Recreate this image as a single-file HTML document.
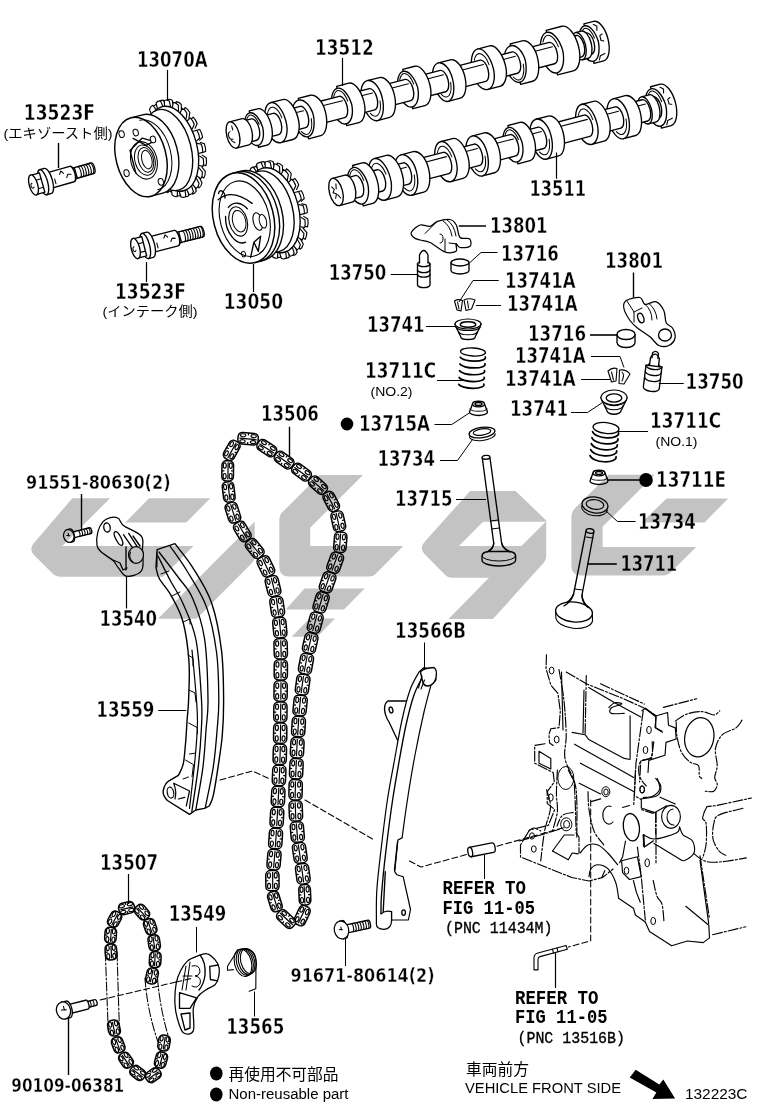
<!DOCTYPE html>
<html><head><meta charset="utf-8"><title>Parts diagram</title>
<style>html,body{margin:0;padding:0;background:#fff}svg{display:block}</style></head>
<body><svg width="760" height="1112" viewBox="0 0 760 1112">
<rect width="760" height="1112" fill="#fff"/>
<path d="M546.5 654.7 L546.0 668.4 L550.8 685.0 L557.9 693.3 L560.3 711.0 L559.0 727.6 L550.8 728.8 L548.9 734.7 L549.6 743.0 L553.2 745.4" fill="none" stroke="#000" stroke-width="1.15" stroke-linejoin="round" stroke-linecap="round" stroke-dasharray="10 2 2 2"/><path d="M544.9 743.7 L534.7 745.4 L534.7 763.2 L553.2 772.6 L554.3 782.0 L547.2 791.6 L547.2 803.4 L554.7 809.5 L548.4 825.3 L529.5 830.0 L520.5 845.0 L520.5 857.0 L571.8 877.5 L589.0 881.0 L602.6 877.5 L613.0 869.0" fill="none" stroke="#000" stroke-width="1.15" stroke-linejoin="round" stroke-linecap="round" stroke-dasharray="10 2 2 2"/><path d="M539.0 751.3 L550.8 758.4 L550.8 769.0 L539.0 763.2 Z" fill="none" stroke="#000" stroke-width="1.15" stroke-linejoin="round" stroke-linecap="round" /><path d="M559.0 669.6 C559.8 674.5 562.6 688.4 563.8 699.2 C565.0 710.1 566.0 724.8 566.2 734.7 C566.4 744.6 563.6 750.5 565.0 758.4 C566.4 766.3 572.5 774.9 574.5 782.0 C576.5 789.1 576.4 791.7 576.8 801.0 C577.2 810.3 576.8 831.8 576.8 837.9" fill="none" stroke="#000" stroke-width="1.15" stroke-linejoin="round" stroke-linecap="round" stroke-dasharray="10 2 2 2"/><path d="M561.5 672.0 L563.0 730.0" fill="none" stroke="#000" stroke-width="1.15" stroke-linejoin="round" stroke-linecap="round" /><path d="M566.2 672.0 L586.3 683.8 L621.8 698.0 L645.5 708.7 L656.2 715.8" fill="none" stroke="#000" stroke-width="1.15" stroke-linejoin="round" stroke-linecap="round" stroke-dasharray="10 2 2 2"/><path d="M600.5 683.8 L644.3 704.0" fill="none" stroke="#000" stroke-width="1.15" stroke-linejoin="round" stroke-linecap="round" stroke-dasharray="10 2 2 2"/><path d="M586.3 675.5 L585.1 734.7" fill="none" stroke="#000" stroke-width="1.15" stroke-linejoin="round" stroke-linecap="round" stroke-dasharray="10 2 2 2"/><path d="M584.0 690.0 L583.0 733.0" fill="none" stroke="#000" stroke-width="1.15" stroke-linejoin="round" stroke-linecap="round" /><path d="M588.7 687.4 L614.7 702.8 L640.8 717.0" fill="none" stroke="#000" stroke-width="1.15" stroke-linejoin="round" stroke-linecap="round" /><path d="M608.8 707.5 C609.8 706.7 612.5 703.4 614.7 702.8 C616.9 702.2 622.4 703.1 621.8 704.0 C621.2 704.9 613.0 706.4 611.2 708.0 C609.4 709.6 609.0 712.5 611.2 713.4 C613.4 714.3 622.0 713.4 624.2 713.4" fill="none" stroke="#000" stroke-width="1.15" stroke-linejoin="round" stroke-linecap="round" /><path d="M630.1 715.8 L630.1 758.4" fill="none" stroke="#000" stroke-width="1.15" stroke-linejoin="round" stroke-linecap="round" /><path d="M572.1 732.4 L585.1 734.7 L588.7 739.5 L624.2 758.4 L630.1 759.5" fill="none" stroke="#000" stroke-width="1.15" stroke-linejoin="round" stroke-linecap="round" /><path d="M574.5 744.2 L633.7 777.4" fill="none" stroke="#000" stroke-width="1.15" stroke-linejoin="round" stroke-linecap="round" /><path d="M580.4 763.2 L633.7 791.6" fill="none" stroke="#000" stroke-width="1.15" stroke-linejoin="round" stroke-linecap="round" /><path d="M579.2 783.3 L600.5 794.0" fill="none" stroke="#000" stroke-width="1.15" stroke-linejoin="round" stroke-linecap="round" /><path d="M643.2 711.0 L636.0 763.2 L633.7 805.8" fill="none" stroke="#000" stroke-width="1.15" stroke-linejoin="round" stroke-linecap="round" stroke-dasharray="10 2 2 2"/><path d="M645.5 708.7 L656.2 717.0 L655.0 727.6 L662.0 731.2" fill="none" stroke="#000" stroke-width="1.15" stroke-linejoin="round" stroke-linecap="round" /><path d="M653.8 741.8 L651.5 758.4 L640.8 760.8 L639.6 782.0" fill="none" stroke="#000" stroke-width="1.15" stroke-linejoin="round" stroke-linecap="round" stroke-dasharray="10 2 2 2"/><path d="M657.4 778.6 C657.8 780.4 660.5 786.2 659.7 789.2 C658.9 792.2 655.4 794.9 652.6 796.3 C649.9 797.7 644.8 797.3 643.2 797.5" fill="none" stroke="#000" stroke-width="1.15" stroke-linejoin="round" stroke-linecap="round" /><ellipse cx="649" cy="730" rx="2.3" ry="3.6" fill="none" stroke="#000" stroke-width="1"/><ellipse cx="645.5" cy="750" rx="2.3" ry="3.6" fill="none" stroke="#000" stroke-width="1"/><ellipse cx="642" cy="789.2" rx="2.3" ry="3.6" fill="none" stroke="#000" stroke-width="1"/><path d="M663.4 707.4 L696.7 698.8" fill="none" stroke="#000" stroke-width="1.15" stroke-linejoin="round" stroke-linecap="round" stroke-dasharray="10 2 2 2"/><path d="M642.0 710.8 L645.4 708.2 L655.7 716.0 L667.6 712.5 L668.5 725.3 L675.3 727.9 L676.2 739.0 L666.0 742.4 L665.0 755.3 L648.8 760.4 L648.0 772.4" fill="none" stroke="#000" stroke-width="1.15" stroke-linejoin="round" stroke-linecap="round" /><path d="M655.7 716.0 L655.7 727.9 L662.5 732.2" fill="none" stroke="#000" stroke-width="1.15" stroke-linejoin="round" stroke-linecap="round" /><path d="M652.2 741.6 C652.1 744.2 653.4 753.6 651.4 757.0 C649.4 760.4 642.3 758.9 640.3 762.0 C638.3 765.1 638.4 771.8 639.4 775.8 C640.4 779.8 645.1 784.3 646.3 786.0" fill="none" stroke="#000" stroke-width="1.15" stroke-linejoin="round" stroke-linecap="round" stroke-dasharray="10 2 2 2"/><path d="M655.7 778.4 C656.6 779.7 660.5 783.1 660.8 786.0 C661.1 788.9 660.7 793.3 657.4 795.5 C654.1 797.7 643.7 798.4 641.0 799.0" fill="none" stroke="#000" stroke-width="1.15" stroke-linejoin="round" stroke-linecap="round" /><ellipse cx="699.3" cy="737.3" rx="14.5" ry="19.7" fill="none" stroke="#000" stroke-width="1.2" transform="rotate(10 699.3 737.3)"/><path d="M675.3 721.0 C677.1 719.9 682.0 715.8 686.4 714.2 C690.8 712.6 697.2 711.5 701.8 711.6 C706.4 711.7 710.8 715.1 713.8 715.0 C716.8 714.9 718.8 711.5 719.8 710.8" fill="none" stroke="#000" stroke-width="1.15" stroke-linejoin="round" stroke-linecap="round" stroke-dasharray="10 2 2 2"/><path d="M676.2 722.0 C676.3 724.4 676.1 731.4 677.0 736.4 C677.9 741.4 679.1 747.5 681.3 751.8 C683.4 756.1 687.0 759.7 689.9 762.0 C692.8 764.3 696.8 763.2 698.4 765.5 C700.0 767.8 698.7 773.6 699.3 775.8 C699.9 777.9 701.4 778.0 701.8 778.4" fill="none" stroke="#000" stroke-width="1.15" stroke-linejoin="round" stroke-linecap="round" stroke-dasharray="10 2 2 2"/><path d="M742.0 720.2 C741.0 721.5 739.3 725.5 736.0 727.9 C732.7 730.3 725.8 731.3 722.4 734.7 C719.0 738.1 716.4 743.3 715.5 748.4 C714.6 753.5 717.3 760.6 717.2 765.5 C717.1 770.4 714.7 774.4 714.7 777.5 C714.7 780.6 717.4 782.0 717.2 784.3 C717.1 786.6 715.8 790.1 713.8 791.2 C711.8 792.4 706.7 791.2 705.3 791.2" fill="none" stroke="#000" stroke-width="1.15" stroke-linejoin="round" stroke-linecap="round" stroke-dasharray="10 2 2 2"/><path d="M660.0 797.2 L675.3 804.0" fill="none" stroke="#000" stroke-width="1.15" stroke-linejoin="round" stroke-linecap="round" /><path d="M642.0 808.3 L654.8 812.6 L666.8 805.7" fill="none" stroke="#000" stroke-width="1.15" stroke-linejoin="round" stroke-linecap="round" /><path d="M655.7 812.6 L655.7 834.0" fill="none" stroke="#000" stroke-width="1.15" stroke-linejoin="round" stroke-linecap="round" stroke-dasharray="10 2 2 2"/><path d="M643.7 834.8 C645.6 835.5 649.4 839.3 654.8 839.0 C660.2 838.7 672.1 835.0 676.2 833.0 C680.3 831.0 679.0 828.0 679.6 827.0" fill="none" stroke="#000" stroke-width="1.15" stroke-linejoin="round" stroke-linecap="round" /><path d="M679.6 827.0 C680.2 828.3 680.9 832.5 683.0 834.8 C685.1 837.1 690.5 837.8 692.4 840.8 C694.2 843.8 695.4 849.5 694.1 852.8 C692.8 856.1 687.4 859.6 684.7 860.5 C682.0 861.4 683.0 860.8 677.9 857.9 C672.8 855.0 658.0 845.8 654.0 843.4" fill="none" stroke="#000" stroke-width="1.15" stroke-linejoin="round" stroke-linecap="round" /><path d="M643.7 834.8 L643.7 846.0" fill="none" stroke="#000" stroke-width="1.6" stroke-linejoin="round" stroke-linecap="round" /><ellipse cx="671" cy="816.8" rx="9.4" ry="11.5" fill="none" stroke="#000" stroke-width="1.15"/><path d="M673 809 A6.5 8 0 1 0 674 825" fill="none" stroke="#000" stroke-width="1.1" stroke-linejoin="round" stroke-linecap="round" /><path d="M694.0 853.6 C695.3 854.6 699.1 858.2 701.8 859.6 C704.5 861.0 706.4 861.9 710.4 862.2 C714.4 862.5 719.8 862.0 725.8 861.3 C731.8 860.6 742.9 858.5 746.3 857.9" fill="none" stroke="#000" stroke-width="1.15" stroke-linejoin="round" stroke-linecap="round" stroke-dasharray="10 2 2 2"/><path d="M704.4 811.7 L707.0 806.6 L715.5 805.7 L751.5 798.0" fill="none" stroke="#000" stroke-width="1.15" stroke-linejoin="round" stroke-linecap="round" stroke-dasharray="10 2 2 2"/><path d="M742.9 808.3 C738.9 809.4 723.9 812.4 719.0 815.0 C714.1 817.6 714.8 819.7 713.8 823.7 C712.8 827.7 712.1 834.5 713.0 839.0 C713.9 843.5 716.9 848.3 719.0 851.0 C721.1 853.7 724.7 854.6 725.8 855.3" fill="none" stroke="#000" stroke-width="1.15" stroke-linejoin="round" stroke-linecap="round" stroke-dasharray="10 2 2 2"/><path d="M704.4 811.7 C704.1 812.9 702.4 816.6 702.7 818.6 C703.0 820.6 705.5 819.4 706.1 823.7 C706.7 828.0 706.7 838.5 706.1 844.2 C705.5 849.9 703.3 855.6 702.7 857.9" fill="none" stroke="#000" stroke-width="1.15" stroke-linejoin="round" stroke-linecap="round" stroke-dasharray="10 2 2 2"/><path d="M700.0 860.4 L708.7 923.7" fill="none" stroke="#000" stroke-width="1.15" stroke-linejoin="round" stroke-linecap="round" /><ellipse cx="631.4" cy="827.2" rx="8" ry="13.8" fill="none" stroke="#000" stroke-width="1.3" transform="rotate(-8 631.4 827.2)"/><path d="M611 806.5 A6.2 9 0 1 0 613 822" fill="none" stroke="#000" stroke-width="1.15" stroke-linejoin="round" stroke-linecap="round" /><ellipse cx="565.8" cy="778" rx="8" ry="11.5" fill="none" stroke="#000" stroke-width="1"/><ellipse cx="551.6" cy="670.5" rx="2.4" ry="3.4" fill="none" stroke="#000" stroke-width="1"/><ellipse cx="556.7" cy="739.5" rx="2.4" ry="3.4" fill="none" stroke="#000" stroke-width="1"/><ellipse cx="550.8" cy="797.5" rx="2.4" ry="3.6" fill="none" stroke="#000" stroke-width="1"/><ellipse cx="533.8" cy="849" rx="2.4" ry="3.2" fill="none" stroke="#000" stroke-width="1"/><ellipse cx="532" cy="836" rx="2.4" ry="3.2" fill="none" stroke="#000" stroke-width="1"/><ellipse cx="626.5" cy="870.7" rx="2.3" ry="3.5" fill="none" stroke="#000" stroke-width="1"/><ellipse cx="647.2" cy="862.8" rx="2.3" ry="4" fill="none" stroke="#000" stroke-width="1"/><ellipse cx="653.2" cy="921" rx="2.4" ry="3.6" fill="none" stroke="#000" stroke-width="1"/><ellipse cx="642.3" cy="789.7" rx="2.3" ry="3.5" fill="none" stroke="#000" stroke-width="1"/><ellipse cx="566.3" cy="824.3" rx="5.6" ry="6.5" fill="none" stroke="#000" stroke-width="1"/><ellipse cx="566.6" cy="824.3" rx="3" ry="3.8" fill="none" stroke="#000" stroke-width="1"/><ellipse cx="605.8" cy="791.7" rx="4" ry="5" fill="none" stroke="#000" stroke-width="1"/><ellipse cx="606" cy="792" rx="2.2" ry="3" fill="none" stroke="#000" stroke-width="1"/><path d="M546.6 789.7 C547.2 792.7 550.8 800.6 550.5 807.5 C550.2 814.4 546.2 822.1 544.6 831.0 C543.0 839.9 541.4 855.8 540.7 860.8" fill="none" stroke="#000" stroke-width="1.15" stroke-linejoin="round" stroke-linecap="round" stroke-dasharray="10 2 2 2"/><path d="M557.4 770.0 C557.2 774.0 556.4 786.8 556.4 793.7 C556.4 800.6 558.0 805.2 557.4 811.4 C556.8 817.6 553.3 827.7 552.5 831.0" fill="none" stroke="#000" stroke-width="1.15" stroke-linejoin="round" stroke-linecap="round" stroke-dasharray="10 2 2 2"/><path d="M568.3 770.0 L574.2 781.8 L575.2 801.6 L576.2 833.2 L579.0 837.0 L579.0 853.0" fill="none" stroke="#000" stroke-width="1.15" stroke-linejoin="round" stroke-linecap="round" stroke-dasharray="10 2 2 2"/><path d="M519.0 841.0 L540.7 835.0 L560.4 829.0" fill="none" stroke="#000" stroke-width="1.15" stroke-linejoin="round" stroke-linecap="round" stroke-dasharray="10 2 2 2"/><path d="M528.8 831.0 C529.6 830.5 531.8 828.0 533.8 828.0 C535.8 828.0 539.6 830.5 540.7 831.0" fill="none" stroke="#000" stroke-width="1.15" stroke-linejoin="round" stroke-linecap="round" stroke-dasharray="10 2 2 2"/><path d="M573.2 812.4 C571.4 812.9 565.1 813.1 562.4 815.4 C559.7 817.7 557.9 824.2 557.0 826.0" fill="none" stroke="#000" stroke-width="1.15" stroke-linejoin="round" stroke-linecap="round" stroke-dasharray="10 2 2 2"/><path d="M552.5 851.0 L564.3 835.0 L574.0 835.0" fill="none" stroke="#000" stroke-width="1.15" stroke-linejoin="round" stroke-linecap="round" /><path d="M552.5 851.0 L568.3 859.8 L572.2 853.0 L578.2 853.9" fill="none" stroke="#000" stroke-width="1.15" stroke-linejoin="round" stroke-linecap="round" /><path d="M580.0 853.0 C581.3 851.7 585.0 846.3 588.0 845.0 C591.0 843.7 594.7 843.7 598.0 845.0 C601.3 846.3 604.5 849.7 607.8 853.0 C611.1 856.3 616.0 862.8 617.6 864.7" fill="none" stroke="#000" stroke-width="1.15" stroke-linejoin="round" stroke-linecap="round" /><path d="M588.0 791.7 C588.2 794.7 588.0 803.0 589.0 809.5 C590.0 816.0 591.5 825.1 594.0 831.0 C596.5 836.9 602.2 842.7 603.8 845.0" fill="none" stroke="#000" stroke-width="1.15" stroke-linejoin="round" stroke-linecap="round" stroke-dasharray="10 2 2 2"/><path d="M591.0 801.6 L601.8 798.6" fill="none" stroke="#000" stroke-width="1.15" stroke-linejoin="round" stroke-linecap="round" stroke-dasharray="10 2 2 2"/><path d="M622.6 807.5 L629.5 805.5" fill="none" stroke="#000" stroke-width="1.15" stroke-linejoin="round" stroke-linecap="round" /><path d="M625.5 841.0 L622.6 856.8 L619.6 862.8" fill="none" stroke="#000" stroke-width="1.15" stroke-linejoin="round" stroke-linecap="round" /><path d="M589.0 876.6 C589.3 875.3 589.5 870.7 591.0 868.7 C592.5 866.7 595.1 864.7 597.9 864.7 C600.7 864.7 604.8 865.7 607.8 868.7 C610.8 871.7 613.9 877.6 615.7 882.5 C617.5 887.4 618.1 895.7 618.6 898.3" fill="none" stroke="#000" stroke-width="1.15" stroke-linejoin="round" stroke-linecap="round" /><path d="M618.6 898.3 L633.4 908.2 L635.4 915.0 L645.3 922.0" fill="none" stroke="#000" stroke-width="1.15" stroke-linejoin="round" stroke-linecap="round" /><path d="M601.8 877.6 L604.8 870.7" fill="none" stroke="#000" stroke-width="1.15" stroke-linejoin="round" stroke-linecap="round" /><path d="M645.3 922.0 L649.5 931.6 L671.6 945.8 L687.4 941.0 L703.2 942.6 L709.5 937.9 L708.8 925.3 L685.8 906.3" fill="none" stroke="#000" stroke-width="1.15" stroke-linejoin="round" stroke-linecap="round" /><path d="M712.6 934.7 L745.8 926.8" fill="none" stroke="#000" stroke-width="1.15" stroke-linejoin="round" stroke-linecap="round" stroke-dasharray="10 2 2 2"/><path d="M700.0 855.8 L709.5 919.0" fill="none" stroke="#000" stroke-width="1.15" stroke-linejoin="round" stroke-linecap="round" stroke-dasharray="10 2 2 2"/><path d="M653.2 880.5 C653.8 883.1 655.5 892.3 657.0 896.3 C658.5 900.2 660.8 899.9 662.0 904.2 C663.2 908.5 663.7 919.0 664.0 922.0" fill="none" stroke="#000" stroke-width="1.15" stroke-linejoin="round" stroke-linecap="round" stroke-dasharray="10 2 2 2"/><path d="M633.4 880.5 L636.4 892.4 L640.3 902.2" fill="none" stroke="#000" stroke-width="1.15" stroke-linejoin="round" stroke-linecap="round" /><path d="M637.4 847.0 L641.3 876.6 L645.3 920.0" fill="none" stroke="#000" stroke-width="1.15" stroke-linejoin="round" stroke-linecap="round" stroke-dasharray="10 2 2 2"/><path d="M621.6 860.8 L637.4 856.8 L641.3 876.6 L629.5 879.5 L622.6 872.6 Z" fill="none" stroke="#000" stroke-width="1.15" stroke-linejoin="round" stroke-linecap="round" /><path d="M635.4 770.0 L634.4 795.7 L641.3 799.6 L641.3 809.5 L653.2 813.4" fill="none" stroke="#000" stroke-width="1.15" stroke-linejoin="round" stroke-linecap="round" stroke-dasharray="10 2 2 2"/><path d="M643.3 835.0 L644.3 847.0 L653.2 841.0" fill="none" stroke="#000" stroke-width="1.5" stroke-linejoin="round" stroke-linecap="round" /><path d="M656.0 812.4 L656.0 862.8" fill="none" stroke="#000" stroke-width="1.15" stroke-linejoin="round" stroke-linecap="round" stroke-dasharray="10 2 2 2"/>
<path d="M220 780 L252.5 771 L270 779 M305 800 L372.6 839 M409.5 861 L421 867 L467 854.4 M497 846.2 L566 827" fill="none" stroke="#000" stroke-width="1.05" stroke-linejoin="round" stroke-linecap="round" stroke-dasharray="6 3"/><path d="M100 1000 L176 982" fill="none" stroke="#000" stroke-width="1.05" stroke-linejoin="round" stroke-linecap="round" stroke-dasharray="6 3"/><path d="M590.7 800 L590.7 940.8 L568.4 947" fill="none" stroke="#000" stroke-width="1.05" stroke-linejoin="round" stroke-linecap="round" stroke-dasharray="6 3"/>
<g transform="translate(33.5 185) rotate(-15.9)"><path d="M44 -5.5 L61 -5.5 A2.5 5.5 0 0 1 61 5.5 L44 5.5 Z" fill="#fff" stroke="#000" stroke-width="1.35" stroke-linejoin="round" stroke-linecap="round" /><path d="M47.0 -5.5 A2.2 5.5 0 0 1 47.0 5.5" fill="none" stroke="#000" stroke-width="1.05" stroke-linejoin="round" stroke-linecap="round" /><path d="M49.6 -5.5 A2.2 5.5 0 0 1 49.6 5.5" fill="none" stroke="#000" stroke-width="1.05" stroke-linejoin="round" stroke-linecap="round" /><path d="M52.2 -5.5 A2.2 5.5 0 0 1 52.2 5.5" fill="none" stroke="#000" stroke-width="1.05" stroke-linejoin="round" stroke-linecap="round" /><path d="M54.8 -5.5 A2.2 5.5 0 0 1 54.8 5.5" fill="none" stroke="#000" stroke-width="1.05" stroke-linejoin="round" stroke-linecap="round" /><path d="M57.4 -5.5 A2.2 5.5 0 0 1 57.4 5.5" fill="none" stroke="#000" stroke-width="1.05" stroke-linejoin="round" stroke-linecap="round" /><path d="M60.0 -5.5 A2.2 5.5 0 0 1 60.0 5.5" fill="none" stroke="#000" stroke-width="1.05" stroke-linejoin="round" stroke-linecap="round" /><path d="M40 -6 L44 -5.5 M40 6 L44 5.5" fill="none" stroke="#000" stroke-width="1.35" stroke-linejoin="round" stroke-linecap="round" /><path d="M14 -8 L40 -8 A3 8 0 0 1 40 8 L14 8 Z" fill="#fff" stroke="#000" stroke-width="1.35" stroke-linejoin="round" stroke-linecap="round" /><path d="M28 -3 l2 -3 l2 3 M34 2 l2 -3 l3 1 M22 0 l0 5" fill="none" stroke="#000" stroke-width="1.05" stroke-linejoin="round" stroke-linecap="round" /><path d="M10 -13 L15 -13 A4.5 13 0 0 1 15 13 L10 13 Z" fill="#fff" stroke="#000" stroke-width="1.35" stroke-linejoin="round" stroke-linecap="round" /><ellipse cx="10" cy="0" rx="4.5" ry="13" fill="#fff" stroke="#000" stroke-width="1.35"/><path d="M0 -10 L9 -10 L9 10 L0 10 Z" fill="#fff" stroke="#000" stroke-width="1.35" stroke-linejoin="round" stroke-linecap="round" /><path d="M0 -4 L9 -4 M0 5 L9 5" fill="none" stroke="#000" stroke-width="1.05" stroke-linejoin="round" stroke-linecap="round" /><ellipse cx="0" cy="0" rx="4.2" ry="10.5" fill="#fff" stroke="#000" stroke-width="1.35"/><path d="M-1 -2 a1.5 2.5 0 1 0 1 4" fill="none" stroke="#000" stroke-width="1.05" stroke-linejoin="round" stroke-linecap="round" /></g>
<g transform="translate(135.5 248.5) rotate(-14.3)"><path d="M46 -5.5 L68 -5.5 A2.5 5.5 0 0 1 68 5.5 L46 5.5 Z" fill="#fff" stroke="#000" stroke-width="1.35" stroke-linejoin="round" stroke-linecap="round" /><path d="M49.0 -5.5 A2.2 5.5 0 0 1 49.0 5.5" fill="none" stroke="#000" stroke-width="1.05" stroke-linejoin="round" stroke-linecap="round" /><path d="M51.6 -5.5 A2.2 5.5 0 0 1 51.6 5.5" fill="none" stroke="#000" stroke-width="1.05" stroke-linejoin="round" stroke-linecap="round" /><path d="M54.2 -5.5 A2.2 5.5 0 0 1 54.2 5.5" fill="none" stroke="#000" stroke-width="1.05" stroke-linejoin="round" stroke-linecap="round" /><path d="M56.8 -5.5 A2.2 5.5 0 0 1 56.8 5.5" fill="none" stroke="#000" stroke-width="1.05" stroke-linejoin="round" stroke-linecap="round" /><path d="M59.4 -5.5 A2.2 5.5 0 0 1 59.4 5.5" fill="none" stroke="#000" stroke-width="1.05" stroke-linejoin="round" stroke-linecap="round" /><path d="M62.0 -5.5 A2.2 5.5 0 0 1 62.0 5.5" fill="none" stroke="#000" stroke-width="1.05" stroke-linejoin="round" stroke-linecap="round" /><path d="M64.6 -5.5 A2.2 5.5 0 0 1 64.6 5.5" fill="none" stroke="#000" stroke-width="1.05" stroke-linejoin="round" stroke-linecap="round" /><path d="M67.2 -5.5 A2.2 5.5 0 0 1 67.2 5.5" fill="none" stroke="#000" stroke-width="1.05" stroke-linejoin="round" stroke-linecap="round" /><path d="M42 -6 L46 -5.5 M42 6 L46 5.5" fill="none" stroke="#000" stroke-width="1.35" stroke-linejoin="round" stroke-linecap="round" /><path d="M14 -8 L42 -8 A3 8 0 0 1 42 8 L14 8 Z" fill="#fff" stroke="#000" stroke-width="1.35" stroke-linejoin="round" stroke-linecap="round" /><path d="M30 -3 l2 -3 l2 3 M36 2 l2 -3 l3 1 M22 0 l0 5" fill="none" stroke="#000" stroke-width="1.05" stroke-linejoin="round" stroke-linecap="round" /><path d="M10 -13 L15 -13 A4.5 13 0 0 1 15 13 L10 13 Z" fill="#fff" stroke="#000" stroke-width="1.35" stroke-linejoin="round" stroke-linecap="round" /><ellipse cx="10" cy="0" rx="4.5" ry="13" fill="#fff" stroke="#000" stroke-width="1.35"/><path d="M0 -10 L9 -10 L9 10 L0 10 Z" fill="#fff" stroke="#000" stroke-width="1.35" stroke-linejoin="round" stroke-linecap="round" /><path d="M0 -4 L9 -4 M0 5 L9 5" fill="none" stroke="#000" stroke-width="1.05" stroke-linejoin="round" stroke-linecap="round" /><ellipse cx="0" cy="0" rx="4.2" ry="10.5" fill="#fff" stroke="#000" stroke-width="1.35"/><path d="M-1 -2 a1.5 2.5 0 1 0 1 4" fill="none" stroke="#000" stroke-width="1.05" stroke-linejoin="round" stroke-linecap="round" /></g>
<g transform="translate(68.8 536) rotate(-14)"><path d="M3 -3 L22 -3 A1.5 3 0 0 1 22 3 L3 3 Z" fill="#fff" stroke="#000" stroke-width="1.35" stroke-linejoin="round" stroke-linecap="round" /><path d="M20.5 -3 A1.3 3 0 0 1 20.5 3" fill="none" stroke="#000" stroke-width="1.05" stroke-linejoin="round" stroke-linecap="round" /><path d="M17.9 -3 A1.3 3 0 0 1 17.9 3" fill="none" stroke="#000" stroke-width="1.05" stroke-linejoin="round" stroke-linecap="round" /><path d="M15.3 -3 A1.3 3 0 0 1 15.3 3" fill="none" stroke="#000" stroke-width="1.05" stroke-linejoin="round" stroke-linecap="round" /><path d="M12.7 -3 A1.3 3 0 0 1 12.7 3" fill="none" stroke="#000" stroke-width="1.05" stroke-linejoin="round" stroke-linecap="round" /><path d="M10.1 -3 A1.3 3 0 0 1 10.1 3" fill="none" stroke="#000" stroke-width="1.05" stroke-linejoin="round" stroke-linecap="round" /><path d="M0 -6.5 L3 -6.5 A2.5 6.5 0 0 1 3 6.5 L0 6.5 Z" fill="#fff" stroke="#000" stroke-width="1.35" stroke-linejoin="round" stroke-linecap="round" /><ellipse cx="0" cy="0" rx="5.2" ry="6.5" fill="#fff" stroke="#000" stroke-width="1.2"/><path d="M-2 -1 l3 1 M0 -3 l0 3" fill="none" stroke="#000" stroke-width="1.05" stroke-linejoin="round" stroke-linecap="round" /></g>
<g transform="translate(341.5 930) rotate(-12)"><path d="M3 -4 L28 -4 A1.5 4 0 0 1 28 4 L3 4 Z" fill="#fff" stroke="#000" stroke-width="1.35" stroke-linejoin="round" stroke-linecap="round" /><path d="M26.5 -4 A1.3 4 0 0 1 26.5 4" fill="none" stroke="#000" stroke-width="1.05" stroke-linejoin="round" stroke-linecap="round" /><path d="M23.9 -4 A1.3 4 0 0 1 23.9 4" fill="none" stroke="#000" stroke-width="1.05" stroke-linejoin="round" stroke-linecap="round" /><path d="M21.3 -4 A1.3 4 0 0 1 21.3 4" fill="none" stroke="#000" stroke-width="1.05" stroke-linejoin="round" stroke-linecap="round" /><path d="M18.7 -4 A1.3 4 0 0 1 18.7 4" fill="none" stroke="#000" stroke-width="1.05" stroke-linejoin="round" stroke-linecap="round" /><path d="M16.1 -4 A1.3 4 0 0 1 16.1 4" fill="none" stroke="#000" stroke-width="1.05" stroke-linejoin="round" stroke-linecap="round" /><path d="M13.5 -4 A1.3 4 0 0 1 13.5 4" fill="none" stroke="#000" stroke-width="1.05" stroke-linejoin="round" stroke-linecap="round" /><path d="M10.899999999999999 -4 A1.3 4 0 0 1 10.899999999999999 4" fill="none" stroke="#000" stroke-width="1.05" stroke-linejoin="round" stroke-linecap="round" /><path d="M0 -9 L3 -9 A2.5 9 0 0 1 3 9 L0 9 Z" fill="#fff" stroke="#000" stroke-width="1.35" stroke-linejoin="round" stroke-linecap="round" /><ellipse cx="0" cy="0" rx="7.2" ry="9" fill="#fff" stroke="#000" stroke-width="1.2"/><path d="M-2 -1 l3 1 M0 -3 l0 3" fill="none" stroke="#000" stroke-width="1.05" stroke-linejoin="round" stroke-linecap="round" /></g>
<g transform="translate(63.5 1010.5) rotate(-14)"><path d="M24 -3 L33 -3 A1.5 3 0 0 1 33 3 L24 3 Z" fill="#fff" stroke="#000" stroke-width="1.35" stroke-linejoin="round" stroke-linecap="round" /><path d="M27 -3 A1.3 3 0 0 1 27 3 M30 -3 A1.3 3 0 0 1 30 3" fill="none" stroke="#000" stroke-width="1.05" stroke-linejoin="round" stroke-linecap="round" /><path d="M5 -4.6 L24 -4.6 A2 4.6 0 0 1 24 4.6 L5 4.6 Z" fill="#fff" stroke="#000" stroke-width="1.35" stroke-linejoin="round" stroke-linecap="round" /><path d="M0 -8.5 L5 -8.5 A3.5 8.5 0 0 1 5 8.5 L0 8.5 Z" fill="#fff" stroke="#000" stroke-width="1.35" stroke-linejoin="round" stroke-linecap="round" /><ellipse cx="0" cy="0" rx="7" ry="8.7" fill="#fff" stroke="#000" stroke-width="1.3"/><path d="M-2 -1 l5 1 M1 -4 l0 4" fill="none" stroke="#000" stroke-width="1.05" stroke-linejoin="round" stroke-linecap="round" /></g>
<path d="M103.0 521.6 C105.1 519.2 107.8 518.2 110.3 517.6 C112.8 517.0 116.0 517.0 118.2 518.3 C120.4 519.6 119.6 522.5 123.4 525.5 C127.2 528.5 138.0 532.0 141.2 536.0 C144.4 540.0 142.4 543.5 142.5 549.2 C142.6 554.9 144.4 565.8 141.8 570.3 C139.2 574.8 130.6 576.7 126.7 576.2 C122.8 575.8 120.5 570.2 118.2 567.6 C115.9 565.0 115.8 563.0 112.9 560.4 C110.0 557.8 103.7 554.3 101.0 551.8 C98.3 549.3 97.5 548.6 97.0 545.3 C96.5 542.0 96.8 536.0 97.8 532.1 C98.8 528.2 100.9 524.0 103.0 521.6 Z" fill="#fff" stroke="#000" stroke-width="1.25" stroke-linejoin="round" stroke-linecap="round" /><ellipse cx="107" cy="527.5" rx="3.2" ry="4.6" fill="none" stroke="#000" stroke-width="1.35" transform="rotate(-10 107 527.5)"/><ellipse cx="118.5" cy="538.5" rx="2.6" ry="7.5" fill="none" stroke="#000" stroke-width="1.35" transform="rotate(-28 118.5 538.5)"/><path d="M123.4 534.7 L132.6 547.9 M128.7 533.4 L137.2 546.6 M133 536 L140 546 M126 547 L126 570 M113 560 L120 563 L123 570 L127 568" fill="none" stroke="#000" stroke-width="1.35" stroke-linejoin="round" stroke-linecap="round" /><ellipse cx="136" cy="555" rx="7.5" ry="8.3" fill="#fff" stroke="#000" stroke-width="1.2"/><path d="M130.5 552 A6.5 7.5 0 0 0 133 562" fill="none" stroke="#000" stroke-width="1.05" stroke-linejoin="round" stroke-linecap="round" />
<path d="M174.9 543.7 C177.8 547.7 186.5 557.5 192.6 567.4 C198.7 577.3 206.8 589.1 211.6 602.9 C216.4 616.7 219.5 634.1 221.5 650.3 C223.5 666.5 223.5 685.9 223.6 700.0 C223.7 714.1 223.2 723.8 222.3 735.0 C221.4 746.2 219.5 757.3 218.0 767.4 C216.5 777.5 214.7 789.4 213.2 795.8 C211.7 802.2 209.9 804.3 209.2 806.0 L204.5 808.4 L195.8 810 L189.5 814.4 L167.4 800.5 Q162 795 163.4 790 Q164.5 784 169 780.8 L178.4 775.3 L178.4 775.3 C179.2 773.4 182.0 769.5 183.2 764.2 C184.4 758.9 184.8 751.1 185.5 743.7 C186.2 736.3 186.6 727.3 187.1 720.0 C187.6 712.7 188.3 709.7 188.6 700.0 C188.9 690.3 189.9 675.0 189.0 662.0 C188.1 649.0 185.9 632.8 183.0 621.8 C180.1 610.8 175.2 602.9 171.3 595.8 C167.4 588.7 162.1 583.7 159.5 579.0 C156.9 574.3 156.6 569.3 156.0 567.4 L157.1 549.6 Z" fill="#fff" stroke="#000" stroke-width="1.4" stroke-linejoin="round" stroke-linecap="round" /><path d="M170.0 546.0 C172.8 550.2 180.9 560.8 187.0 571.0 C193.1 581.2 201.6 593.5 206.5 607.0 C211.4 620.5 214.4 636.5 216.5 652.0 C218.6 667.5 218.7 687.0 218.8 700.0 C218.9 713.0 218.0 718.8 217.1 730.0 C216.2 741.2 215.2 754.5 213.2 767.4 C211.2 780.3 206.6 800.9 205.3 807.6" fill="none" stroke="#000" stroke-width="1.3" stroke-linejoin="round" stroke-linecap="round" /><path d="M159.0 552.0 C162.2 556.2 172.4 569.3 178.0 577.0 C183.6 584.7 188.2 588.0 192.6 598.2 C197.0 608.4 201.9 621.4 204.5 638.4 C207.1 655.4 207.8 684.7 208.0 700.0 C208.2 715.3 206.8 718.8 206.0 730.0 C205.2 741.2 204.6 754.1 202.9 767.4 C201.2 780.7 197.0 802.9 195.8 810.0" fill="none" stroke="#000" stroke-width="1.3" stroke-linejoin="round" stroke-linecap="round" /><path d="M158.0 556.0 C160.0 560.0 165.8 572.0 170.0 580.0 C174.2 588.0 178.9 594.0 183.2 604.0 C187.5 614.0 192.9 624.0 196.0 640.0 C199.1 656.0 200.6 685.0 201.5 700.0 C202.4 715.0 201.9 718.8 201.3 730.0 C200.8 741.2 199.8 753.8 198.2 767.4 C196.6 781.0 192.9 804.2 191.8 811.6" fill="none" stroke="#000" stroke-width="1.3" stroke-linejoin="round" stroke-linecap="round" /><path d="M192.0 650.0 C192.8 658.3 195.6 687.5 196.5 700.0 C197.4 712.5 197.7 715.1 197.4 725.0 C197.2 734.9 196.3 745.6 195.0 759.5 C193.7 773.4 190.4 800.2 189.5 808.4" fill="none" stroke="#000" stroke-width="1.2" stroke-linejoin="round" stroke-linecap="round" /><path d="M157 553 L157 567 M161 574 l8 -3 M172 596 l8 -4 M183 622 l7 -3 l0 5 M188 655 l5 3 l0 8 M189 690 l6 3 l1 9 M188.7 723 l8.7 4.7 l0 6 M189.5 754 l5.5 -0.8 M185.5 760 l8 4.7 l-1.5 12 M183 779 l5.5 -2" fill="none" stroke="#000" stroke-width="1" stroke-linejoin="round" stroke-linecap="round" /><ellipse cx="170.5" cy="792.6" rx="3.2" ry="5.5" fill="none" stroke="#000" stroke-width="1.2" transform="rotate(-12 170.5 792.6)"/><path d="M173.7 783.2 L189.5 791 L186.3 806 M173.7 783.2 Q177 792 175 799 M178.4 799 L184.7 797.4" fill="none" stroke="#000" stroke-width="1.2" stroke-linejoin="round" stroke-linecap="round" />
<path d="M419.0 672.0 C417.5 675.0 412.8 682.0 410.0 690.0 C407.2 698.0 404.6 708.3 402.0 720.0 C399.4 731.7 396.9 746.7 394.5 760.0 C392.1 773.3 389.6 785.0 387.4 800.0 C385.1 815.0 382.8 834.9 381.0 850.0 C379.2 865.1 377.6 878.1 376.8 890.5 C376.0 902.9 376.5 918.6 376.4 924.2 Q376.4 929 384 929.3 Q391.6 929 391.6 920 L393.7 920 L408.4 920 L410.5 909.5 L403.2 876.8 L396.8 874.7 L394.7 871.6 L397.9 840 L402.1 837.9 L402.1 837.9 C403.0 831.6 405.2 813.8 407.4 800.0 C409.5 786.2 412.2 769.7 415.0 755.0 C417.8 740.3 421.3 723.7 424.0 712.0 C426.7 700.3 429.8 689.5 431.0 685.0 L436 680 L434 670 L424 667.5 Z" fill="#fff" stroke="#000" stroke-width="1.2" stroke-linejoin="round" stroke-linecap="round" /><path d="M423.0 676.0 C421.5 679.2 416.8 686.8 414.0 695.0 C411.2 703.2 408.5 713.8 406.0 725.0 C403.5 736.2 401.2 749.5 399.0 762.0 C396.8 774.5 394.8 785.3 392.6 800.0 C390.4 814.7 387.9 834.2 386.0 850.0 C384.1 865.8 382.3 884.4 381.5 895.0 C380.7 905.6 381.1 910.6 381.0 913.7" fill="none" stroke="#000" stroke-width="1.35" stroke-linejoin="round" stroke-linecap="round" /><path d="M385.3 871.6 L383.2 911.6 M381 913.7 Q386 910 391.6 911.6 L391.6 921 M397.5 842 L394.5 870" fill="none" stroke="#000" stroke-width="1.35" stroke-linejoin="round" stroke-linecap="round" /><path d="M420.5 672 Q423 668 434 667.5 Q437.5 670 436 678 Q434 685 428 686 Q423.5 686 422.5 681 Z" fill="#fff" stroke="#000" stroke-width="1.35" stroke-linejoin="round" stroke-linecap="round" /><path d="M422 676 L418.5 688 M424.5 680 L421 689" fill="none" stroke="#000" stroke-width="1.05" stroke-linejoin="round" stroke-linecap="round" /><path d="M406 701 L388 701 Q384.5 703 384.5 709 Q385 716 389 722 L397.5 740" fill="none" stroke="#000" stroke-width="1.35" stroke-linejoin="round" stroke-linecap="round" /><ellipse cx="391" cy="710" rx="1.8" ry="3" fill="none" stroke="#000" stroke-width="1.35" transform="rotate(-15 391 710)"/><ellipse cx="403.6" cy="912.6" rx="1.8" ry="2.8" fill="none" stroke="#000" stroke-width="1.35"/>
<path d="M196.6 956.4 C199.9 955.2 204.0 953.2 207.1 953.8 C210.2 954.3 213.0 957.4 215.0 959.7 C217.0 962.0 218.4 964.5 219.0 967.6 C219.6 970.7 219.0 975.4 218.3 978.2 C217.6 981.1 217.1 982.7 215.0 984.7 C212.9 986.7 208.7 988.0 205.8 990.0 C203.0 992.0 200.0 993.5 197.9 996.6 C195.8 999.7 194.1 1002.7 193.3 1008.4 C192.5 1014.1 195.0 1026.7 193.3 1030.8 C191.7 1034.9 186.0 1034.8 183.4 1032.8 C180.8 1030.8 178.9 1023.9 177.5 1019.0 C176.1 1014.1 175.1 1009.1 174.9 1003.2 C174.7 997.3 175.2 988.9 176.2 983.4 C177.2 977.9 178.9 974.0 180.8 970.3 C182.7 966.6 184.8 963.4 187.4 961.1 C190.0 958.8 193.3 957.6 196.6 956.4 Z" fill="#fff" stroke="#000" stroke-width="1.25" stroke-linejoin="round" stroke-linecap="round" /><path d="M209.7 966.3 L218.3 965 M209.7 966.3 L210.4 979.5 L217.6 980.8 M200 955 Q206 962 205 975 Q204 984 199 990" fill="none" stroke="#000" stroke-width="1.35" stroke-linejoin="round" stroke-linecap="round" /><path d="M192 966 Q200 964 200 972 Q199 976 195 976 Q202 977 200 984 Q197 989 192 986" fill="none" stroke="#000" stroke-width="1" stroke-linejoin="round" stroke-linecap="round" /><path d="M186 966 L182 990 M190 962 L186 990 M183 976 L192 976" fill="none" stroke="#000" stroke-width="1.05" stroke-linejoin="round" stroke-linecap="round" /><path d="M179.5 992.6 L196.6 997.9 L190 1008.4 L179.5 1008.4 Z M181 1014 L190 1013 L190 1028 L185 1030 Z" fill="none" stroke="#000" stroke-width="1.35" stroke-linejoin="round" stroke-linecap="round" />
<ellipse cx="243.0" cy="962.8" rx="8.5" ry="14.0" fill="none" stroke="#000" stroke-width="1.1" transform="rotate(-14 243.0 962.8)"/><ellipse cx="244.8" cy="962.1999999999999" rx="8.2" ry="13.6" fill="none" stroke="#000" stroke-width="1.1" transform="rotate(-14 244.8 962.1999999999999)"/><ellipse cx="246.6" cy="961.5999999999999" rx="7.9" ry="13.2" fill="none" stroke="#000" stroke-width="1.1" transform="rotate(-14 246.6 961.5999999999999)"/><ellipse cx="248.4" cy="961.0" rx="7.6" ry="12.8" fill="none" stroke="#000" stroke-width="1.1" transform="rotate(-14 248.4 961.0)"/><path d="M238 949.5 L227.5 966.3 L227.5 970.3 L233.4 969.6 M246 949 Q256 950 256 962 L255.8 988.7 L249.2 991.3" fill="none" stroke="#000" stroke-width="1.1" stroke-linejoin="round" stroke-linecap="round" />
<path d="M176 982 L192 978.3" fill="none" stroke="#000" stroke-width="1.05" stroke-linejoin="round" stroke-linecap="round" stroke-dasharray="6 3"/>
<path d="M411.3 232.5 C412.3 230.4 416.9 226.0 420.0 225.0 C423.1 224.0 427.1 226.9 430.0 226.3 C432.9 225.7 434.2 222.4 437.5 221.3 C440.8 220.2 446.9 218.9 450.0 219.5 C453.1 220.1 454.6 222.0 456.3 225.0 C458.0 228.0 457.8 235.2 460.0 237.5 C462.2 239.8 467.8 237.3 469.5 238.8 C471.2 240.3 471.6 244.9 470.0 246.3 C468.4 247.8 462.3 247.9 460.0 247.5 C457.7 247.1 456.7 243.2 456.0 243.8 C455.3 244.4 457.8 249.9 456.0 251.3 C454.2 252.7 449.3 253.5 445.0 252.0 C440.7 250.5 434.2 244.5 430.0 242.5 C425.8 240.5 422.7 240.8 420.0 240.0 C417.3 239.2 415.2 238.8 413.8 237.5 C412.4 236.2 410.3 234.6 411.3 232.5 Z" fill="#fff" stroke="#000" stroke-width="1.25" stroke-linejoin="round" stroke-linecap="round" /><path d="M440 234 a3 4.5 0 1 1 0 9 M425 233.5 L436 222.5 M443 221 Q450 225 452 236 M447 220 Q454 224 456 236 M445 239 L445 252 M456 243.8 L449 243" fill="none" stroke="#000" stroke-width="1" stroke-linejoin="round" stroke-linecap="round" />
<path d="M623.8 308.0 C623.2 304.7 623.6 302.2 626.3 300.5 C629.0 298.8 636.9 296.9 640.0 297.5 C643.1 298.1 642.3 303.6 645.0 304.3 C647.7 305.0 653.2 300.8 656.3 301.8 C659.4 302.8 662.1 307.0 663.8 310.5 C665.5 314.0 664.8 320.1 666.3 323.0 C667.8 325.9 671.0 325.5 672.5 328.0 C674.0 330.5 675.6 335.1 675.0 338.0 C674.4 340.9 671.5 344.2 668.8 345.5 C666.1 346.8 661.9 346.9 658.8 345.5 C655.7 344.1 653.5 339.7 650.0 336.8 C646.5 333.9 640.8 330.7 637.5 328.0 C634.2 325.3 632.3 323.8 630.0 320.5 C627.7 317.2 624.4 311.3 623.8 308.0 Z" fill="#fff" stroke="#000" stroke-width="1.25" stroke-linejoin="round" stroke-linecap="round" /><ellipse cx="665" cy="335" rx="6.5" ry="6" fill="#fff" stroke="#000" stroke-width="1.35"/><ellipse cx="640.8" cy="318" rx="2.8" ry="5" fill="none" stroke="#000" stroke-width="1.35" transform="rotate(-20 640.8 318)"/><path d="M627 301 L634 312 L634 322 M645 304.3 Q652 310 652 320 M649 303.5 Q656 309 657 319 M634 312 L642 308" fill="none" stroke="#000" stroke-width="1" stroke-linejoin="round" stroke-linecap="round" />
<path d="M417.5 264 L417.5 285 A6.3 3 0 0 0 430 285 L430 264 A6.3 3 0 0 0 417.5 264 Z" fill="#fff" stroke="#000" stroke-width="1.35" stroke-linejoin="round" stroke-linecap="round" /><path d="M417.5 264 A6.3 3 0 0 0 430 264 M417.5 270 A6.3 3 0 0 0 430 270 M417.5 274.5 A6.3 3 0 0 0 430 274.5" fill="none" stroke="#000" stroke-width="1.35" stroke-linejoin="round" stroke-linecap="round" /><path d="M419.5 263 L419.5 255 Q423.7 246 428 255 L428 263" fill="#fff" stroke="#000" stroke-width="1.35" stroke-linejoin="round" stroke-linecap="round" />
<g transform="rotate(7 653 374)"><path d="M645 366 L645 388 A8 3.5 0 0 0 661 388 L661 366 Z" fill="#fff" stroke="#000" stroke-width="1.35" stroke-linejoin="round" stroke-linecap="round" /><path d="M645 366 A8 3.5 0 0 0 661 366 M645 372 A8 3.5 0 0 0 661 372 M645 378 A8 3.5 0 0 0 661 378 M647 366 A6 2.5 0 0 1 659 366" fill="none" stroke="#000" stroke-width="1.35" stroke-linejoin="round" stroke-linecap="round" /><path d="M648.5 365 L648.5 358 Q653 350 657.5 358 L657.5 365" fill="#fff" stroke="#000" stroke-width="1.35" stroke-linejoin="round" stroke-linecap="round" /><path d="M650 358 L650 353 Q653 349.5 656 353 L656 358" fill="none" stroke="#000" stroke-width="1.35" stroke-linejoin="round" stroke-linecap="round" /></g>
<path d="M451 262.5 L451 270.5 A9 3.5 0 0 0 469 270.5 L469 262.5 Z" fill="#fff" stroke="#000" stroke-width="1.35" stroke-linejoin="round" stroke-linecap="round" /><ellipse cx="460" cy="262.5" rx="9" ry="3.5" fill="#fff" stroke="#000" stroke-width="1.35"/>
<path d="M617 334.5 L617 342.5 A9 5 0 0 0 635 342.5 L635 334.5 Z" fill="#fff" stroke="#000" stroke-width="1.35" stroke-linejoin="round" stroke-linecap="round" /><ellipse cx="626" cy="334.5" rx="9" ry="5" fill="#fff" stroke="#000" stroke-width="1.35"/>
<path d="M454.5 301 L457 310 L461 311 L462.5 300.5 Q458 298.5 454.5 301 Z M464 300 L466 310.5 L471.5 309 L475 300 Q469 297.5 464 300 Z" fill="#fff" stroke="#000" stroke-width="1.1" stroke-linejoin="round" stroke-linecap="round" /><path d="M457.5 302 L459 309 M467.5 301 L468.5 308" fill="none" stroke="#000" stroke-width="1.05" stroke-linejoin="round" stroke-linecap="round" />
<path d="M608 371 Q612 367 617 368.5 L616 381 L611.5 382 Z M619.5 370 Q626 369 630 374 L624 384 L619 383.5 Z" fill="#fff" stroke="#000" stroke-width="1.1" stroke-linejoin="round" stroke-linecap="round" /><path d="M611.5 372 L613.5 380 M622 372 Q625 375 622 381" fill="none" stroke="#000" stroke-width="1.05" stroke-linejoin="round" stroke-linecap="round" />
<path d="M455 324 L456 327 L460.85 337 A7.15 2.5 0 0 0 475.15 337 L480 327 L481 324" fill="#fff" stroke="#000" stroke-width="1.35" stroke-linejoin="round" stroke-linecap="round" /><path d="M456 327.5 A13 5 0 0 0 480 327.5 M458.9 331.8 A9.1 3.0 0 0 0 477.1 331.8" fill="none" stroke="#000" stroke-width="1.05" stroke-linejoin="round" stroke-linecap="round" /><ellipse cx="468" cy="324" rx="13" ry="5" fill="#fff" stroke="#000" stroke-width="1.2"/><ellipse cx="468" cy="324.5" rx="7.8" ry="2.75" fill="none" stroke="#000" stroke-width="1.35"/>
<path d="M601 397.5 L602 400.5 L606.85 410.5 A7.15 3.75 0 0 0 621.15 410.5 L626 400.5 L627 397.5" fill="#fff" stroke="#000" stroke-width="1.35" stroke-linejoin="round" stroke-linecap="round" /><path d="M602 401.0 A13 7.5 0 0 0 626 401.0 M604.9 405.3 A9.1 4.5 0 0 0 623.1 405.3" fill="none" stroke="#000" stroke-width="1.05" stroke-linejoin="round" stroke-linecap="round" /><ellipse cx="614" cy="397.5" rx="13" ry="7.5" fill="#fff" stroke="#000" stroke-width="1.2"/><ellipse cx="614" cy="398.0" rx="7.8" ry="4.125" fill="none" stroke="#000" stroke-width="1.35"/>
<g transform="rotate(3 473 352)"><ellipse cx="473" cy="352" rx="12.5" ry="4" fill="none" stroke="#000" stroke-width="1.3"/><path d="M460.5 357.8 A12.5 4 0 0 0 485.5 356.3" fill="none" stroke="#000" stroke-width="1.7" stroke-linejoin="round" stroke-linecap="round" /><path d="M460.5 364.6 A12.5 4 0 0 0 485.5 363.1" fill="none" stroke="#000" stroke-width="1.7" stroke-linejoin="round" stroke-linecap="round" /><path d="M460.5 371.4 A12.5 4 0 0 0 485.5 369.9" fill="none" stroke="#000" stroke-width="1.7" stroke-linejoin="round" stroke-linecap="round" /><path d="M460.5 378.2 A12.5 4 0 0 0 485.5 376.7" fill="none" stroke="#000" stroke-width="1.7" stroke-linejoin="round" stroke-linecap="round" /><path d="M460.5 385.0 A12.5 4 0 0 0 485.5 383.5" fill="none" stroke="#000" stroke-width="1.7" stroke-linejoin="round" stroke-linecap="round" /></g>
<g transform="rotate(6 606 428)"><ellipse cx="606" cy="428" rx="13" ry="5.5" fill="none" stroke="#000" stroke-width="1.3"/><path d="M593 433 A13 5.5 0 0 0 619 431.5" fill="none" stroke="#000" stroke-width="1.7" stroke-linejoin="round" stroke-linecap="round" /><path d="M593 439 A13 5.5 0 0 0 619 437.5" fill="none" stroke="#000" stroke-width="1.7" stroke-linejoin="round" stroke-linecap="round" /><path d="M593 445 A13 5.5 0 0 0 619 443.5" fill="none" stroke="#000" stroke-width="1.7" stroke-linejoin="round" stroke-linecap="round" /><path d="M593 451 A13 5.5 0 0 0 619 449.5" fill="none" stroke="#000" stroke-width="1.7" stroke-linejoin="round" stroke-linecap="round" /><path d="M593 457 A13 5.5 0 0 0 619 455.5" fill="none" stroke="#000" stroke-width="1.7" stroke-linejoin="round" stroke-linecap="round" /></g>
<path d="M472.5 404 L469.5 412 A9 3.5 0 0 0 487.5 412 L484.5 404 Z" fill="#fff" stroke="#000" stroke-width="1.35" stroke-linejoin="round" stroke-linecap="round" /><path d="M470.0 409 A9 3.5 0 0 0 487.0 409" fill="none" stroke="#000" stroke-width="1.05" stroke-linejoin="round" stroke-linecap="round" /><ellipse cx="478.5" cy="404" rx="6" ry="2.8" fill="#fff" stroke="#000" stroke-width="1.35"/><ellipse cx="478.5" cy="404" rx="3.5" ry="1.5" fill="none" stroke="#000" stroke-width="1.35"/>
<path d="M593 473 L590 481 A9 3.5 0 0 0 608 481 L605 473 Z" fill="#fff" stroke="#000" stroke-width="1.35" stroke-linejoin="round" stroke-linecap="round" /><path d="M590.5 478 A9 3.5 0 0 0 607.5 478" fill="none" stroke="#000" stroke-width="1.05" stroke-linejoin="round" stroke-linecap="round" /><ellipse cx="599" cy="473" rx="6" ry="2.8" fill="#fff" stroke="#000" stroke-width="1.35"/><ellipse cx="599" cy="473" rx="3.5" ry="1.5" fill="none" stroke="#000" stroke-width="1.35"/>
<ellipse cx="482" cy="432.5" rx="13" ry="5.2" fill="#fff" stroke="#000" stroke-width="1.3" transform="rotate(-8 482 432.5)"/><ellipse cx="482" cy="432.0" rx="8.84" ry="3.12" fill="none" stroke="#000" stroke-width="1.2" transform="rotate(-8 482 432.0)"/><path d="M469 433.5 A13 5.2 0 0 0 495 434.0" fill="none" stroke="#000" stroke-width="1" stroke-linejoin="round" stroke-linecap="round" transform="rotate(-8 482 432.5) translate(0 1.5)"/>
<ellipse cx="595" cy="505" rx="13" ry="8" fill="#fff" stroke="#000" stroke-width="1.3" transform="rotate(8 595 505)"/><ellipse cx="595" cy="504.5" rx="8.84" ry="4.8" fill="none" stroke="#000" stroke-width="1.2" transform="rotate(8 595 504.5)"/><path d="M582 506 A13 8 0 0 0 608 506.5" fill="none" stroke="#000" stroke-width="1" stroke-linejoin="round" stroke-linecap="round" transform="rotate(8 595 505) translate(0 1.5)"/>
<path d="M482.3 458 L493.7 543 Q494 549 484 554 L514 554 Q502.5 549 501.6 543 L490 458 Z" fill="#fff" stroke="#000" stroke-width="1.35" stroke-linejoin="round" stroke-linecap="round" /><ellipse cx="486" cy="457.3" rx="3.9" ry="1.9" fill="#fff" stroke="#000" stroke-width="1.35" transform="rotate(-5 486 457.3)"/><path d="M490.7 521 L498.3 520 M491.8 529 L499.4 528" fill="none" stroke="#000" stroke-width="1.05" stroke-linejoin="round" stroke-linecap="round" /><path d="M482 556 Q482 552.5 488 551.5 L510 551.5 Q515.6 552.5 515.6 556 L515.6 560 A16.8 6 0 0 1 482 560 Z" fill="#fff" stroke="#000" stroke-width="1.35" stroke-linejoin="round" stroke-linecap="round" /><path d="M482 556 A16.8 5 0 0 0 515.6 556" fill="none" stroke="#000" stroke-width="1" stroke-linejoin="round" stroke-linecap="round" /><path d="M493.7 543 Q494 549 487 552 M501.6 543 Q503 549 510 552" fill="none" stroke="#000" stroke-width="1.35" stroke-linejoin="round" stroke-linecap="round" />
<path d="M586 531 L573.6 594 Q571 602 560 606 L590 609 Q582 602 582 595 L593.8 532 Z" fill="#fff" stroke="#000" stroke-width="1.35" stroke-linejoin="round" stroke-linecap="round" /><ellipse cx="590" cy="531" rx="3.9" ry="2.3" fill="#fff" stroke="#000" stroke-width="1.35" transform="rotate(8 590 531)"/><path d="M586.3 537 L593 538 M574.5 589 L582.6 590" fill="none" stroke="#000" stroke-width="1.05" stroke-linejoin="round" stroke-linecap="round" /><ellipse cx="574" cy="612" rx="18.5" ry="10" fill="#fff" stroke="#000" stroke-width="1.35" transform="rotate(6 574 612)"/><path d="M555.6 611 L555.8 617 A18.5 10 6 0 0 592.5 621 L592.4 614" fill="none" stroke="#000" stroke-width="1.1" stroke-linejoin="round" stroke-linecap="round" /><path d="M573.6 594 Q571 602 564 606 M582 595 Q582 603 588 607.5" fill="none" stroke="#000" stroke-width="1.35" stroke-linejoin="round" stroke-linecap="round" />
<g transform="rotate(-11 481.6 849.8)"><path d="M470 845 L493 845 A2.3 4.8 0 0 1 493 854.6 L470 854.6 Z" fill="#fff" stroke="#000" stroke-width="1.35" stroke-linejoin="round" stroke-linecap="round" /><ellipse cx="470" cy="849.8" rx="2.3" ry="4.8" fill="#fff" stroke="#000" stroke-width="1.35"/></g><path d="M534 969.9 L534 958 Q534 954 538 953 L566 945.5 L567.4 949.3 L540 956.6 Q538 957.3 538 959.5 L538 969.9 Z" fill="#fff" stroke="#000" stroke-width="1.1" stroke-linejoin="round" stroke-linecap="round" /><path d="M552.5 949.2 L553.5 953 M557 948 L558 951.8" fill="none" stroke="#000" stroke-width="1.05" stroke-linejoin="round" stroke-linecap="round" />
<g transform="translate(233 135) rotate(-14.4)"><path d="M367.5 -20.330000000000002 L377.5 -20.330000000000002 A9.6 20.330000000000002 0 0 1 387.1 0 A9.6 20.330000000000002 0 0 1 377.5 20.330000000000002 L367.5 20.330000000000002 Z" fill="#fff" stroke="#000" stroke-width="1.35" stroke-linejoin="round" stroke-linecap="round" /><path d="M358.0 0 A9.6 20.330000000000002 0 0 1 377.1 0 A9.6 20.330000000000002 0 0 1 358.0 0 Z" fill="#fff" stroke="#000" stroke-width="1.35" stroke-linejoin="round" stroke-linecap="round" /><path d="M362.3 -11.2 A7.2 16.3 0 0 1 374.2 -4.1" fill="none" stroke="#000" stroke-width="1.0" stroke-linejoin="round" stroke-linecap="round" /><path d="M363.2 -11 L367.5 -11 A5.2 11 0 0 1 367.5 11 L363.2 11" fill="#fff" stroke="#000" stroke-width="1.35" stroke-linejoin="round" stroke-linecap="round" /><path d="M357.2 -14 L363.2 -14 A6.6 14 0 0 1 369.8 0 A6.6 14 0 0 1 363.2 14 L357.2 14 Z" fill="#fff" stroke="#000" stroke-width="1.35" stroke-linejoin="round" stroke-linecap="round" /><path d="M350.6 0 A6.6 14 0 0 1 363.8 0 A6.6 14 0 0 1 350.6 0 Z" fill="#fff" stroke="#000" stroke-width="1.35" stroke-linejoin="round" stroke-linecap="round" /><path d="M345.6 -11 L357.2 -11 A5.2 11 0 0 1 357.2 11 L345.6 11" fill="#fff" stroke="#000" stroke-width="1.35" stroke-linejoin="round" stroke-linecap="round" /><path d="M329.3 -23.540000000000003 L345.6 -23.540000000000003 A11.1 23.540000000000003 0 0 1 356.7 0 A11.1 22.470000000000002 0 0 1 345.6 22.470000000000002 L329.3 22.470000000000002 Z" fill="#fff" stroke="#000" stroke-width="1.35" stroke-linejoin="round" stroke-linecap="round" /><path d="M318.3 0 A11.1 23.540000000000003 0 0 1 340.4 0 A11.1 22.470000000000002 0 0 1 318.3 0 Z" fill="#fff" stroke="#000" stroke-width="1.35" stroke-linejoin="round" stroke-linecap="round" /><path d="M323.3 -12.9 A8.3 18.8 0 0 1 337.1 -4.7" fill="none" stroke="#000" stroke-width="1.0" stroke-linejoin="round" stroke-linecap="round" /><path d="M303.6 -11 L329.3 -11 A5.2 11 0 0 1 329.3 11 L303.6 11" fill="#fff" stroke="#000" stroke-width="1.35" stroke-linejoin="round" stroke-linecap="round" /><path d="M306.6 -6 L331.3 -6" fill="none" stroke="#000" stroke-width="1.05" stroke-linejoin="round" stroke-linecap="round" /><path d="M291.1 -19.26 L303.6 -19.26 A10.6 19.26 0 0 1 314.2 0 A10.6 22.470000000000002 0 0 1 303.6 22.470000000000002 L291.1 22.470000000000002 Z" fill="#fff" stroke="#000" stroke-width="1.35" stroke-linejoin="round" stroke-linecap="round" /><path d="M280.6 0 A10.6 19.26 0 0 1 301.7 0 A10.6 22.470000000000002 0 0 1 280.6 0 Z" fill="#fff" stroke="#000" stroke-width="1.35" stroke-linejoin="round" stroke-linecap="round" /><path d="M298.8 3.4 A7.9 18.0 0 0 1 285.9 13.5" fill="none" stroke="#000" stroke-width="1.0" stroke-linejoin="round" stroke-linecap="round" /><path d="M270.6 -11 L291.1 -11 A5.2 11 0 0 1 291.1 11 L270.6 11" fill="#fff" stroke="#000" stroke-width="1.35" stroke-linejoin="round" stroke-linecap="round" /><path d="M273.6 -6 L293.1 -6" fill="none" stroke="#000" stroke-width="1.05" stroke-linejoin="round" stroke-linecap="round" /><path d="M258.1 -22.470000000000002 L270.6 -22.470000000000002 A10.6 22.470000000000002 0 0 1 281.2 0 A10.6 19.26 0 0 1 270.6 19.26 L258.1 19.26 Z" fill="#fff" stroke="#000" stroke-width="1.35" stroke-linejoin="round" stroke-linecap="round" /><path d="M247.5 0 A10.6 22.470000000000002 0 0 1 268.7 0 A10.6 19.26 0 0 1 247.5 0 Z" fill="#fff" stroke="#000" stroke-width="1.35" stroke-linejoin="round" stroke-linecap="round" /><path d="M252.3 -12.4 A7.9 18.0 0 0 1 265.5 -4.5" fill="none" stroke="#000" stroke-width="1.0" stroke-linejoin="round" stroke-linecap="round" /><path d="M229.3 -11 L258.1 -11 A5.2 11 0 0 1 258.1 11 L229.3 11" fill="#fff" stroke="#000" stroke-width="1.35" stroke-linejoin="round" stroke-linecap="round" /><path d="M232.3 -6 L260.1 -6" fill="none" stroke="#000" stroke-width="1.05" stroke-linejoin="round" stroke-linecap="round" /><path d="M216.8 -18.725 L229.3 -18.725 A9.8 18.725 0 0 1 239.1 0 A9.8 20.865000000000002 0 0 1 229.3 20.865000000000002 L216.8 20.865000000000002 Z" fill="#fff" stroke="#000" stroke-width="1.35" stroke-linejoin="round" stroke-linecap="round" /><path d="M207.0 0 A9.8 18.725 0 0 1 226.6 0 A9.8 20.865000000000002 0 0 1 207.0 0 Z" fill="#fff" stroke="#000" stroke-width="1.35" stroke-linejoin="round" stroke-linecap="round" /><path d="M223.9 3.1 A7.4 16.7 0 0 1 211.9 12.5" fill="none" stroke="#000" stroke-width="1.0" stroke-linejoin="round" stroke-linecap="round" /><path d="M193.2 -11 L216.8 -11 A5.2 11 0 0 1 216.8 11 L193.2 11" fill="#fff" stroke="#000" stroke-width="1.35" stroke-linejoin="round" stroke-linecap="round" /><path d="M196.2 -6 L218.8 -6" fill="none" stroke="#000" stroke-width="1.05" stroke-linejoin="round" stroke-linecap="round" /><path d="M180.7 -21.400000000000002 L193.2 -21.400000000000002 A10.1 21.400000000000002 0 0 1 203.2 0 A10.1 19.26 0 0 1 193.2 19.26 L180.7 19.26 Z" fill="#fff" stroke="#000" stroke-width="1.35" stroke-linejoin="round" stroke-linecap="round" /><path d="M170.6 0 A10.1 21.400000000000002 0 0 1 190.7 0 A10.1 19.26 0 0 1 170.6 0 Z" fill="#fff" stroke="#000" stroke-width="1.35" stroke-linejoin="round" stroke-linecap="round" /><path d="M175.1 -11.8 A7.5 17.1 0 0 1 187.7 -4.3" fill="none" stroke="#000" stroke-width="1.0" stroke-linejoin="round" stroke-linecap="round" /><path d="M156.0 -11 L180.7 -11 A5.2 11 0 0 1 180.7 11 L156.0 11" fill="#fff" stroke="#000" stroke-width="1.35" stroke-linejoin="round" stroke-linecap="round" /><path d="M159.0 -6 L182.7 -6" fill="none" stroke="#000" stroke-width="1.05" stroke-linejoin="round" stroke-linecap="round" /><path d="M143.5 -19.26 L156.0 -19.26 A10.3 19.26 0 0 1 166.3 0 A10.3 21.935000000000002 0 0 1 156.0 21.935000000000002 L143.5 21.935000000000002 Z" fill="#fff" stroke="#000" stroke-width="1.35" stroke-linejoin="round" stroke-linecap="round" /><path d="M133.2 0 A10.3 19.26 0 0 1 153.8 0 A10.3 21.935000000000002 0 0 1 133.2 0 Z" fill="#fff" stroke="#000" stroke-width="1.35" stroke-linejoin="round" stroke-linecap="round" /><path d="M150.9 3.3 A7.7 17.5 0 0 1 138.4 13.2" fill="none" stroke="#000" stroke-width="1.0" stroke-linejoin="round" stroke-linecap="round" /><path d="M125.0 -11 L143.5 -11 A5.2 11 0 0 1 143.5 11 L125.0 11" fill="#fff" stroke="#000" stroke-width="1.35" stroke-linejoin="round" stroke-linecap="round" /><path d="M128.0 -6 L145.5 -6" fill="none" stroke="#000" stroke-width="1.05" stroke-linejoin="round" stroke-linecap="round" /><path d="M112.5 -21.400000000000002 L125.0 -21.400000000000002 A10.1 21.400000000000002 0 0 1 135.1 0 A10.1 19.26 0 0 1 125.0 19.26 L112.5 19.26 Z" fill="#fff" stroke="#000" stroke-width="1.35" stroke-linejoin="round" stroke-linecap="round" /><path d="M102.5 0 A10.1 21.400000000000002 0 0 1 122.6 0 A10.1 19.26 0 0 1 102.5 0 Z" fill="#fff" stroke="#000" stroke-width="1.35" stroke-linejoin="round" stroke-linecap="round" /><path d="M107.0 -11.8 A7.5 17.1 0 0 1 119.6 -4.3" fill="none" stroke="#000" stroke-width="1.0" stroke-linejoin="round" stroke-linecap="round" /><path d="M84.8 -11 L112.5 -11 A5.2 11 0 0 1 112.5 11 L84.8 11" fill="#fff" stroke="#000" stroke-width="1.35" stroke-linejoin="round" stroke-linecap="round" /><path d="M87.8 -6 L114.5 -6" fill="none" stroke="#000" stroke-width="1.05" stroke-linejoin="round" stroke-linecap="round" /><path d="M72.3 -19.26 L84.8 -19.26 A10.6 19.26 0 0 1 95.3 0 A10.6 22.470000000000002 0 0 1 84.8 22.470000000000002 L72.3 22.470000000000002 Z" fill="#fff" stroke="#000" stroke-width="1.35" stroke-linejoin="round" stroke-linecap="round" /><path d="M61.7 0 A10.6 19.26 0 0 1 82.8 0 A10.6 22.470000000000002 0 0 1 61.7 0 Z" fill="#fff" stroke="#000" stroke-width="1.35" stroke-linejoin="round" stroke-linecap="round" /><path d="M79.9 3.4 A7.9 18.0 0 0 1 67.0 13.5" fill="none" stroke="#000" stroke-width="1.0" stroke-linejoin="round" stroke-linecap="round" /><path d="M56.9 -11 L72.3 -11 A5.2 11 0 0 1 72.3 11 L56.9 11" fill="#fff" stroke="#000" stroke-width="1.35" stroke-linejoin="round" stroke-linecap="round" /><path d="M59.9 -6 L74.3 -6" fill="none" stroke="#000" stroke-width="1.05" stroke-linejoin="round" stroke-linecap="round" /><path d="M44.4 -21.935000000000002 L56.9 -21.935000000000002 A10.3 21.935000000000002 0 0 1 67.2 0 A10.3 19.26 0 0 1 56.9 19.26 L44.4 19.26 Z" fill="#fff" stroke="#000" stroke-width="1.35" stroke-linejoin="round" stroke-linecap="round" /><path d="M34.1 0 A10.3 21.935000000000002 0 0 1 54.7 0 A10.3 19.26 0 0 1 34.1 0 Z" fill="#fff" stroke="#000" stroke-width="1.35" stroke-linejoin="round" stroke-linecap="round" /><path d="M38.7 -12.1 A7.7 17.5 0 0 1 51.6 -4.4" fill="none" stroke="#000" stroke-width="1.0" stroke-linejoin="round" stroke-linecap="round" /><path d="M30.4 -11 L44.4 -11 A5.2 11 0 0 1 44.4 11 L30.4 11" fill="#fff" stroke="#000" stroke-width="1.35" stroke-linejoin="round" stroke-linecap="round" /><path d="M21.7 -19.26 L30.4 -19.26 A9.1 19.26 0 0 1 39.5 0 A9.1 18.19 0 0 1 30.4 18.19 L21.7 18.19 Z" fill="#fff" stroke="#000" stroke-width="1.35" stroke-linejoin="round" stroke-linecap="round" /><path d="M12.6 0 A9.1 19.26 0 0 1 30.7 0 A9.1 18.19 0 0 1 12.6 0 Z" fill="#fff" stroke="#000" stroke-width="1.35" stroke-linejoin="round" stroke-linecap="round" /><path d="M16.7 -10.6 A6.8 15.4 0 0 1 28.0 -3.9" fill="none" stroke="#000" stroke-width="1.0" stroke-linejoin="round" stroke-linecap="round" /><path d="M13.0 -11 L21.7 -11 A5.2 11 0 0 1 21.7 11 L13.0 11" fill="#fff" stroke="#000" stroke-width="1.35" stroke-linejoin="round" stroke-linecap="round" /><path d="M0.0 -13.5 L13.0 -13.5 A6.3 13.5 0 0 1 19.3 0 A6.3 13.5 0 0 1 13.0 13.5 L0.0 13.5 Z" fill="#fff" stroke="#000" stroke-width="1.35" stroke-linejoin="round" stroke-linecap="round" /><path d="M-6.3 0 A6.3 13.5 0 0 1 6.3 0 A6.3 13.5 0 0 1 -6.3 0 Z" fill="#fff" stroke="#000" stroke-width="1.35" stroke-linejoin="round" stroke-linecap="round" /></g><g transform="translate(233 135) rotate(-14.4)"><path d="M376.5 -17.5 l3 2.5 l-1 4 M382.5 -6 l-2.5 1 l0 5 l2.5 1 M373.5 18.5 l2 -4 l5 -1" fill="none" stroke="#000" stroke-width="1.1" stroke-linejoin="round" stroke-linecap="round" /></g><g transform="translate(233 135) rotate(-14.4)"><path d="M-2 -4 a3 4 0 1 0 1 8 M1 -9 l0 4 M-3 5 l3 3" fill="none" stroke="#000" stroke-width="1.05" stroke-linejoin="round" stroke-linecap="round" /></g>
<g transform="translate(336 192) rotate(-14.8)"><path d="M331.0 -21.400000000000002 L341.0 -21.400000000000002 A10.1 21.400000000000002 0 0 1 351.0 0 A10.1 21.400000000000002 0 0 1 341.0 21.400000000000002 L331.0 21.400000000000002 Z" fill="#fff" stroke="#000" stroke-width="1.35" stroke-linejoin="round" stroke-linecap="round" /><path d="M320.9 0 A10.1 21.400000000000002 0 0 1 341.0 0 A10.1 21.400000000000002 0 0 1 320.9 0 Z" fill="#fff" stroke="#000" stroke-width="1.35" stroke-linejoin="round" stroke-linecap="round" /><path d="M325.4 -11.8 A7.5 17.1 0 0 1 338.0 -4.3" fill="none" stroke="#000" stroke-width="1.0" stroke-linejoin="round" stroke-linecap="round" /><path d="M327.6 -11 L331.0 -11 A5.2 11 0 0 1 331.0 11 L327.6 11" fill="#fff" stroke="#000" stroke-width="1.35" stroke-linejoin="round" stroke-linecap="round" /><path d="M319.6 -14 L327.6 -14 A6.6 14 0 0 1 334.2 0 A6.6 14 0 0 1 327.6 14 L319.6 14 Z" fill="#fff" stroke="#000" stroke-width="1.35" stroke-linejoin="round" stroke-linecap="round" /><path d="M313.0 0 A6.6 14 0 0 1 326.2 0 A6.6 14 0 0 1 313.0 0 Z" fill="#fff" stroke="#000" stroke-width="1.35" stroke-linejoin="round" stroke-linecap="round" /><path d="M304.2 -11 L319.6 -11 A5.2 11 0 0 1 319.6 11 L304.2 11" fill="#fff" stroke="#000" stroke-width="1.35" stroke-linejoin="round" stroke-linecap="round" /><path d="M307.2 -6 L321.6 -6" fill="none" stroke="#000" stroke-width="1.05" stroke-linejoin="round" stroke-linecap="round" /><path d="M291.7 -19.26 L304.2 -19.26 A10.3 19.26 0 0 1 314.5 0 A10.3 21.935000000000002 0 0 1 304.2 21.935000000000002 L291.7 21.935000000000002 Z" fill="#fff" stroke="#000" stroke-width="1.35" stroke-linejoin="round" stroke-linecap="round" /><path d="M281.4 0 A10.3 19.26 0 0 1 302.0 0 A10.3 21.935000000000002 0 0 1 281.4 0 Z" fill="#fff" stroke="#000" stroke-width="1.35" stroke-linejoin="round" stroke-linecap="round" /><path d="M299.1 3.3 A7.7 17.5 0 0 1 286.5 13.2" fill="none" stroke="#000" stroke-width="1.0" stroke-linejoin="round" stroke-linecap="round" /><path d="M272.1 -11 L291.7 -11 A5.2 11 0 0 1 291.7 11 L272.1 11" fill="#fff" stroke="#000" stroke-width="1.35" stroke-linejoin="round" stroke-linecap="round" /><path d="M275.1 -6 L293.7 -6" fill="none" stroke="#000" stroke-width="1.05" stroke-linejoin="round" stroke-linecap="round" /><path d="M259.6 -21.935000000000002 L272.1 -21.935000000000002 A10.3 21.935000000000002 0 0 1 282.4 0 A10.3 19.26 0 0 1 272.1 19.26 L259.6 19.26 Z" fill="#fff" stroke="#000" stroke-width="1.35" stroke-linejoin="round" stroke-linecap="round" /><path d="M249.3 0 A10.3 21.935000000000002 0 0 1 269.9 0 A10.3 19.26 0 0 1 249.3 0 Z" fill="#fff" stroke="#000" stroke-width="1.35" stroke-linejoin="round" stroke-linecap="round" /><path d="M253.9 -12.1 A7.7 17.5 0 0 1 266.8 -4.4" fill="none" stroke="#000" stroke-width="1.0" stroke-linejoin="round" stroke-linecap="round" /><path d="M224.5 -11 L259.6 -11 A5.2 11 0 0 1 259.6 11 L224.5 11" fill="#fff" stroke="#000" stroke-width="1.35" stroke-linejoin="round" stroke-linecap="round" /><path d="M227.5 -6 L261.6 -6" fill="none" stroke="#000" stroke-width="1.05" stroke-linejoin="round" stroke-linecap="round" /><path d="M212.0 -19.26 L224.5 -19.26 A10.3 19.26 0 0 1 234.8 0 A10.3 21.935000000000002 0 0 1 224.5 21.935000000000002 L212.0 21.935000000000002 Z" fill="#fff" stroke="#000" stroke-width="1.35" stroke-linejoin="round" stroke-linecap="round" /><path d="M201.7 0 A10.3 19.26 0 0 1 222.3 0 A10.3 21.935000000000002 0 0 1 201.7 0 Z" fill="#fff" stroke="#000" stroke-width="1.35" stroke-linejoin="round" stroke-linecap="round" /><path d="M219.5 3.3 A7.7 17.5 0 0 1 206.9 13.2" fill="none" stroke="#000" stroke-width="1.0" stroke-linejoin="round" stroke-linecap="round" /><path d="M195.6 -11 L212.0 -11 A5.2 11 0 0 1 212.0 11 L195.6 11" fill="#fff" stroke="#000" stroke-width="1.35" stroke-linejoin="round" stroke-linecap="round" /><path d="M198.6 -6 L214.0 -6" fill="none" stroke="#000" stroke-width="1.05" stroke-linejoin="round" stroke-linecap="round" /><path d="M183.1 -20.330000000000002 L195.6 -20.330000000000002 A9.6 20.330000000000002 0 0 1 205.1 0 A9.6 19.26 0 0 1 195.6 19.26 L183.1 19.26 Z" fill="#fff" stroke="#000" stroke-width="1.35" stroke-linejoin="round" stroke-linecap="round" /><path d="M173.5 0 A9.6 20.330000000000002 0 0 1 192.6 0 A9.6 19.26 0 0 1 173.5 0 Z" fill="#fff" stroke="#000" stroke-width="1.35" stroke-linejoin="round" stroke-linecap="round" /><path d="M177.8 -11.2 A7.2 16.3 0 0 1 189.8 -4.1" fill="none" stroke="#000" stroke-width="1.0" stroke-linejoin="round" stroke-linecap="round" /><path d="M158.3 -11 L183.1 -11 A5.2 11 0 0 1 183.1 11 L158.3 11" fill="#fff" stroke="#000" stroke-width="1.35" stroke-linejoin="round" stroke-linecap="round" /><path d="M161.3 -6 L185.1 -6" fill="none" stroke="#000" stroke-width="1.05" stroke-linejoin="round" stroke-linecap="round" /><path d="M145.8 -19.26 L158.3 -19.26 A10.3 19.26 0 0 1 168.6 0 A10.3 21.935000000000002 0 0 1 158.3 21.935000000000002 L145.8 21.935000000000002 Z" fill="#fff" stroke="#000" stroke-width="1.35" stroke-linejoin="round" stroke-linecap="round" /><path d="M135.5 0 A10.3 19.26 0 0 1 156.1 0 A10.3 21.935000000000002 0 0 1 135.5 0 Z" fill="#fff" stroke="#000" stroke-width="1.35" stroke-linejoin="round" stroke-linecap="round" /><path d="M153.3 3.3 A7.7 17.5 0 0 1 140.7 13.2" fill="none" stroke="#000" stroke-width="1.0" stroke-linejoin="round" stroke-linecap="round" /><path d="M126.3 -11 L145.8 -11 A5.2 11 0 0 1 145.8 11 L126.3 11" fill="#fff" stroke="#000" stroke-width="1.35" stroke-linejoin="round" stroke-linecap="round" /><path d="M129.3 -6 L147.8 -6" fill="none" stroke="#000" stroke-width="1.05" stroke-linejoin="round" stroke-linecap="round" /><path d="M113.8 -21.935000000000002 L126.3 -21.935000000000002 A10.3 21.935000000000002 0 0 1 136.6 0 A10.3 19.26 0 0 1 126.3 19.26 L113.8 19.26 Z" fill="#fff" stroke="#000" stroke-width="1.35" stroke-linejoin="round" stroke-linecap="round" /><path d="M103.5 0 A10.3 21.935000000000002 0 0 1 124.1 0 A10.3 19.26 0 0 1 103.5 0 Z" fill="#fff" stroke="#000" stroke-width="1.35" stroke-linejoin="round" stroke-linecap="round" /><path d="M108.1 -12.1 A7.7 17.5 0 0 1 121.0 -4.4" fill="none" stroke="#000" stroke-width="1.0" stroke-linejoin="round" stroke-linecap="round" /><path d="M84.9 -11 L113.8 -11 A5.2 11 0 0 1 113.8 11 L84.9 11" fill="#fff" stroke="#000" stroke-width="1.35" stroke-linejoin="round" stroke-linecap="round" /><path d="M87.9 -6 L115.8 -6" fill="none" stroke="#000" stroke-width="1.05" stroke-linejoin="round" stroke-linecap="round" /><path d="M72.4 -19.26 L84.9 -19.26 A10.6 19.26 0 0 1 95.5 0 A10.6 22.470000000000002 0 0 1 84.9 22.470000000000002 L72.4 22.470000000000002 Z" fill="#fff" stroke="#000" stroke-width="1.35" stroke-linejoin="round" stroke-linecap="round" /><path d="M61.8 0 A10.6 19.26 0 0 1 83.0 0 A10.6 22.470000000000002 0 0 1 61.8 0 Z" fill="#fff" stroke="#000" stroke-width="1.35" stroke-linejoin="round" stroke-linecap="round" /><path d="M80.0 3.4 A7.9 18.0 0 0 1 67.1 13.5" fill="none" stroke="#000" stroke-width="1.0" stroke-linejoin="round" stroke-linecap="round" /><path d="M58.0 -11 L72.4 -11 A5.2 11 0 0 1 72.4 11 L58.0 11" fill="#fff" stroke="#000" stroke-width="1.35" stroke-linejoin="round" stroke-linecap="round" /><path d="M61.0 -6 L74.4 -6" fill="none" stroke="#000" stroke-width="1.05" stroke-linejoin="round" stroke-linecap="round" /><path d="M45.5 -22.470000000000002 L58.0 -22.470000000000002 A10.6 22.470000000000002 0 0 1 68.6 0 A10.6 20.330000000000002 0 0 1 58.0 20.330000000000002 L45.5 20.330000000000002 Z" fill="#fff" stroke="#000" stroke-width="1.35" stroke-linejoin="round" stroke-linecap="round" /><path d="M34.9 0 A10.6 22.470000000000002 0 0 1 56.1 0 A10.6 20.330000000000002 0 0 1 34.9 0 Z" fill="#fff" stroke="#000" stroke-width="1.35" stroke-linejoin="round" stroke-linecap="round" /><path d="M39.7 -12.4 A7.9 18.0 0 0 1 52.9 -4.5" fill="none" stroke="#000" stroke-width="1.0" stroke-linejoin="round" stroke-linecap="round" /><path d="M32.8 -11 L45.5 -11 A5.2 11 0 0 1 45.5 11 L32.8 11" fill="#fff" stroke="#000" stroke-width="1.35" stroke-linejoin="round" stroke-linecap="round" /><path d="M22.8 -21.400000000000002 L32.8 -21.400000000000002 A10.1 21.400000000000002 0 0 1 42.8 0 A10.1 20.330000000000002 0 0 1 32.8 20.330000000000002 L22.8 20.330000000000002 Z" fill="#fff" stroke="#000" stroke-width="1.35" stroke-linejoin="round" stroke-linecap="round" /><path d="M12.7 0 A10.1 21.400000000000002 0 0 1 32.8 0 A10.1 20.330000000000002 0 0 1 12.7 0 Z" fill="#fff" stroke="#000" stroke-width="1.35" stroke-linejoin="round" stroke-linecap="round" /><path d="M17.2 -11.8 A7.5 17.1 0 0 1 29.8 -4.3" fill="none" stroke="#000" stroke-width="1.0" stroke-linejoin="round" stroke-linecap="round" /><path d="M13.0 -11 L22.8 -11 A5.2 11 0 0 1 22.8 11 L13.0 11" fill="#fff" stroke="#000" stroke-width="1.35" stroke-linejoin="round" stroke-linecap="round" /><path d="M0.0 -14 L13.0 -14 A6.6 14 0 0 1 19.6 0 A6.6 14 0 0 1 13.0 14 L0.0 14 Z" fill="#fff" stroke="#000" stroke-width="1.35" stroke-linejoin="round" stroke-linecap="round" /><path d="M-6.6 0 A6.6 14 0 0 1 6.6 0 A6.6 14 0 0 1 -6.6 0 Z" fill="#fff" stroke="#000" stroke-width="1.35" stroke-linejoin="round" stroke-linecap="round" /></g><g transform="translate(336 192) rotate(-14.8)"><path d="M340.0 -18.5 l3 2.5 l-1 4 M347.0 -6 l-2.5 1 l0 5 l2.5 1 M337.0 19.5 l2 -4 l5 -1" fill="none" stroke="#000" stroke-width="1.1" stroke-linejoin="round" stroke-linecap="round" /></g><g transform="translate(336 192) rotate(-14.8)"><path d="M-3 -6 l2 3 l-2 3 l3 2 l-2 4 M2 -8 l-1 5 M1 3 l2 4" fill="none" stroke="#000" stroke-width="1.05" stroke-linejoin="round" stroke-linecap="round" /></g>
<g transform="translate(141 157) rotate(-14.5)"><path d="M23.9 -37.7 L23.1 -44.0 Q25.0 -46.9 27.5 -47.1 L29.5 -41.5" fill="#fff" stroke="#000" stroke-width="1.15" stroke-linejoin="round" stroke-linecap="round" /><path d="M30.9 -42.1 L31.2 -48.6 Q33.5 -50.4 36.0 -49.3 L36.9 -43.0" fill="#fff" stroke="#000" stroke-width="1.15" stroke-linejoin="round" stroke-linecap="round" /><path d="M38.4 -42.8 L39.7 -48.9 Q42.3 -49.4 44.4 -47.1 L44.2 -40.6" fill="#fff" stroke="#000" stroke-width="1.15" stroke-linejoin="round" stroke-linecap="round" /><path d="M45.6 -39.7 L47.9 -44.8 Q50.5 -44.1 52.1 -40.8 L50.8 -34.7" fill="#fff" stroke="#000" stroke-width="1.15" stroke-linejoin="round" stroke-linecap="round" /><path d="M52.0 -33.1 L55.1 -36.8 Q57.4 -34.8 58.4 -30.8 L56.1 -25.6" fill="#fff" stroke="#000" stroke-width="1.15" stroke-linejoin="round" stroke-linecap="round" /><path d="M56.9 -23.5 L60.5 -25.5 Q62.4 -22.4 62.7 -18.1 L59.6 -14.3" fill="#fff" stroke="#000" stroke-width="1.15" stroke-linejoin="round" stroke-linecap="round" /><path d="M60.0 -11.9 L63.8 -11.9 Q65.0 -8.0 64.6 -3.7 L61.0 -1.7" fill="#fff" stroke="#000" stroke-width="1.15" stroke-linejoin="round" stroke-linecap="round" /><path d="M61.0 0.9 L64.6 2.8 Q65.1 7.0 64.0 10.9 L60.2 11.0" fill="#fff" stroke="#000" stroke-width="1.15" stroke-linejoin="round" stroke-linecap="round" /><path d="M59.7 13.5 L62.9 17.1 Q62.6 21.5 60.8 24.6 L57.2 22.8" fill="#fff" stroke="#000" stroke-width="1.15" stroke-linejoin="round" stroke-linecap="round" /><path d="M56.4 24.9 L58.7 30.0 Q57.8 34.0 55.5 36.1 L52.4 32.5" fill="#fff" stroke="#000" stroke-width="1.15" stroke-linejoin="round" stroke-linecap="round" /><path d="M51.2 34.1 L52.6 40.2 Q51.0 43.6 48.5 44.4 L46.1 39.4" fill="#fff" stroke="#000" stroke-width="1.15" stroke-linejoin="round" stroke-linecap="round" /><path d="M44.7 40.3 L45.0 46.8 Q42.8 49.2 40.3 48.7 L38.9 42.7" fill="#fff" stroke="#000" stroke-width="1.15" stroke-linejoin="round" stroke-linecap="round" /><path d="M37.4 42.9 L36.5 49.3 Q34.1 50.5 31.8 48.8 L31.4 42.3" fill="#fff" stroke="#000" stroke-width="1.15" stroke-linejoin="round" stroke-linecap="round" /><path d="M30.0 41.7 L28.1 47.4 Q25.5 47.3 23.6 44.4 L24.4 38.1" fill="#fff" stroke="#000" stroke-width="1.15" stroke-linejoin="round" stroke-linecap="round" /><path d="M23.1 36.8 L20.3 41.3 Q17.9 39.9 16.5 36.2 L18.4 30.5" fill="#fff" stroke="#000" stroke-width="1.15" stroke-linejoin="round" stroke-linecap="round" /><path d="M20.9 -37.7 L20.1 -44.0 Q22.0 -46.9 24.5 -47.1 L26.5 -41.5" fill="#fff" stroke="#000" stroke-width="1.15" stroke-linejoin="round" stroke-linecap="round" /><path d="M27.9 -42.1 L28.2 -48.6 Q30.5 -50.4 33.0 -49.3 L33.9 -43.0" fill="#fff" stroke="#000" stroke-width="1.15" stroke-linejoin="round" stroke-linecap="round" /><path d="M35.4 -42.8 L36.7 -48.9 Q39.3 -49.4 41.4 -47.1 L41.2 -40.6" fill="#fff" stroke="#000" stroke-width="1.15" stroke-linejoin="round" stroke-linecap="round" /><path d="M42.6 -39.7 L44.9 -44.8 Q47.5 -44.1 49.1 -40.8 L47.8 -34.7" fill="#fff" stroke="#000" stroke-width="1.15" stroke-linejoin="round" stroke-linecap="round" /><path d="M49.0 -33.1 L52.1 -36.8 Q54.4 -34.8 55.4 -30.8 L53.1 -25.6" fill="#fff" stroke="#000" stroke-width="1.15" stroke-linejoin="round" stroke-linecap="round" /><path d="M53.9 -23.5 L57.5 -25.5 Q59.4 -22.4 59.7 -18.1 L56.6 -14.3" fill="#fff" stroke="#000" stroke-width="1.15" stroke-linejoin="round" stroke-linecap="round" /><path d="M57.0 -11.9 L60.8 -11.9 Q62.0 -8.0 61.6 -3.7 L58.0 -1.7" fill="#fff" stroke="#000" stroke-width="1.15" stroke-linejoin="round" stroke-linecap="round" /><path d="M58.0 0.9 L61.6 2.8 Q62.1 7.0 61.0 10.9 L57.2 11.0" fill="#fff" stroke="#000" stroke-width="1.15" stroke-linejoin="round" stroke-linecap="round" /><path d="M56.7 13.5 L59.9 17.1 Q59.6 21.5 57.8 24.6 L54.2 22.8" fill="#fff" stroke="#000" stroke-width="1.15" stroke-linejoin="round" stroke-linecap="round" /><path d="M53.4 24.9 L55.7 30.0 Q54.8 34.0 52.5 36.1 L49.4 32.5" fill="#fff" stroke="#000" stroke-width="1.15" stroke-linejoin="round" stroke-linecap="round" /><path d="M48.2 34.1 L49.6 40.2 Q48.0 43.6 45.5 44.4 L43.1 39.4" fill="#fff" stroke="#000" stroke-width="1.15" stroke-linejoin="round" stroke-linecap="round" /><path d="M41.7 40.3 L42.0 46.8 Q39.8 49.2 37.3 48.7 L35.9 42.7" fill="#fff" stroke="#000" stroke-width="1.15" stroke-linejoin="round" stroke-linecap="round" /><path d="M34.4 42.9 L33.5 49.3 Q31.1 50.5 28.8 48.8 L28.4 42.3" fill="#fff" stroke="#000" stroke-width="1.15" stroke-linejoin="round" stroke-linecap="round" /><path d="M27.0 41.7 L25.1 47.4 Q22.5 47.3 20.6 44.4 L21.4 38.1" fill="#fff" stroke="#000" stroke-width="1.15" stroke-linejoin="round" stroke-linecap="round" /><path d="M20.1 36.8 L17.3 41.3 Q14.9 39.9 13.5 36.2 L15.4 30.5" fill="#fff" stroke="#000" stroke-width="1.15" stroke-linejoin="round" stroke-linecap="round" /><ellipse cx="33" cy="0" rx="24.1" ry="43.4" fill="#fff" stroke="#000" stroke-width="1.35"/><ellipse cx="28" cy="0" rx="23.0" ry="41.5" fill="#fff" stroke="#000" stroke-width="1.35"/><path d="M0 -40.5 L12 -40.5 A25 40.5 0 0 1 12 40.5 L0 40.5 Z" fill="#fff" stroke="#000" stroke-width="1.35" stroke-linejoin="round" stroke-linecap="round" /><ellipse cx="0" cy="0" rx="25" ry="40.5" fill="#fff" stroke="#000" stroke-width="1.4500000000000002"/><path d="M8 -36 A22 36 0 0 1 8 36" fill="none" stroke="#000" stroke-width="1" stroke-linejoin="round" stroke-linecap="round" /><ellipse cx="2" cy="4" rx="13" ry="19" fill="#fff" stroke="#000" stroke-width="1.1"/><ellipse cx="3" cy="4" rx="10" ry="15.5" fill="none" stroke="#000" stroke-width="1"/><ellipse cx="4" cy="4" rx="7.5" ry="12.5" fill="none" stroke="#000" stroke-width="1"/><ellipse cx="5" cy="4" rx="5" ry="9.5" fill="none" stroke="#000" stroke-width="1"/><path d="M-9 -9 L6 -18 L16 -12 M-9 -9 L-9 14 M-3 -20 L8 -10 L16 -12" fill="none" stroke="#000" stroke-width="1.35" stroke-linejoin="round" stroke-linecap="round" /><ellipse cx="-13" cy="-27" rx="2.6" ry="3.4" fill="#fff" stroke="#000" stroke-width="1"/><ellipse cx="-18" cy="12" rx="2.6" ry="3.4" fill="#fff" stroke="#000" stroke-width="1"/><ellipse cx="13" cy="29" rx="2.6" ry="3.4" fill="#fff" stroke="#000" stroke-width="1"/><ellipse cx="16" cy="-14" rx="2.6" ry="3.4" fill="#fff" stroke="#000" stroke-width="1"/><ellipse cx="1" cy="-25" rx="2.6" ry="3.4" fill="#fff" stroke="#000" stroke-width="1"/></g>
<g transform="translate(243.5 218) rotate(-14.5)"><path d="M21.5 -37.7 L20.6 -44.0 Q22.5 -46.9 25.2 -47.1 L27.2 -41.5" fill="#fff" stroke="#000" stroke-width="1.15" stroke-linejoin="round" stroke-linecap="round" /><path d="M28.7 -42.1 L29.0 -48.6 Q31.4 -50.4 34.0 -49.3 L34.9 -43.0" fill="#fff" stroke="#000" stroke-width="1.15" stroke-linejoin="round" stroke-linecap="round" /><path d="M36.5 -42.8 L37.9 -48.9 Q40.5 -49.4 42.8 -47.1 L42.5 -40.6" fill="#fff" stroke="#000" stroke-width="1.15" stroke-linejoin="round" stroke-linecap="round" /><path d="M44.0 -39.7 L46.4 -44.8 Q49.0 -44.1 50.8 -40.8 L49.4 -34.7" fill="#fff" stroke="#000" stroke-width="1.15" stroke-linejoin="round" stroke-linecap="round" /><path d="M50.6 -33.1 L53.9 -36.8 Q56.2 -34.8 57.3 -30.8 L54.9 -25.6" fill="#fff" stroke="#000" stroke-width="1.15" stroke-linejoin="round" stroke-linecap="round" /><path d="M55.8 -23.5 L59.5 -25.5 Q61.4 -22.4 61.7 -18.1 L58.5 -14.3" fill="#fff" stroke="#000" stroke-width="1.15" stroke-linejoin="round" stroke-linecap="round" /><path d="M59.0 -11.9 L62.9 -11.9 Q64.2 -8.0 63.7 -3.7 L60.0 -1.7" fill="#fff" stroke="#000" stroke-width="1.15" stroke-linejoin="round" stroke-linecap="round" /><path d="M60.0 0.9 L63.8 2.8 Q64.3 7.0 63.1 10.9 L59.1 11.0" fill="#fff" stroke="#000" stroke-width="1.15" stroke-linejoin="round" stroke-linecap="round" /><path d="M58.7 13.5 L62.0 17.1 Q61.7 21.5 59.8 24.6 L56.0 22.8" fill="#fff" stroke="#000" stroke-width="1.15" stroke-linejoin="round" stroke-linecap="round" /><path d="M55.2 24.9 L57.7 30.0 Q56.6 34.0 54.3 36.1 L51.0 32.5" fill="#fff" stroke="#000" stroke-width="1.15" stroke-linejoin="round" stroke-linecap="round" /><path d="M49.8 34.1 L51.3 40.2 Q49.6 43.6 47.0 44.4 L44.5 39.4" fill="#fff" stroke="#000" stroke-width="1.15" stroke-linejoin="round" stroke-linecap="round" /><path d="M43.0 40.3 L43.3 46.8 Q41.1 49.2 38.5 48.7 L37.0 42.7" fill="#fff" stroke="#000" stroke-width="1.15" stroke-linejoin="round" stroke-linecap="round" /><path d="M35.4 42.9 L34.6 49.3 Q32.0 50.5 29.6 48.8 L29.2 42.3" fill="#fff" stroke="#000" stroke-width="1.15" stroke-linejoin="round" stroke-linecap="round" /><path d="M27.7 41.7 L25.8 47.4 Q23.1 47.3 21.1 44.4 L21.9 38.1" fill="#fff" stroke="#000" stroke-width="1.15" stroke-linejoin="round" stroke-linecap="round" /><path d="M20.6 36.8 L17.7 41.3 Q15.2 39.9 13.7 36.2 L15.7 30.5" fill="#fff" stroke="#000" stroke-width="1.15" stroke-linejoin="round" stroke-linecap="round" /><path d="M18.5 -37.7 L17.6 -44.0 Q19.5 -46.9 22.2 -47.1 L24.2 -41.5" fill="#fff" stroke="#000" stroke-width="1.15" stroke-linejoin="round" stroke-linecap="round" /><path d="M25.7 -42.1 L26.0 -48.6 Q28.4 -50.4 31.0 -49.3 L31.9 -43.0" fill="#fff" stroke="#000" stroke-width="1.15" stroke-linejoin="round" stroke-linecap="round" /><path d="M33.5 -42.8 L34.9 -48.9 Q37.5 -49.4 39.8 -47.1 L39.5 -40.6" fill="#fff" stroke="#000" stroke-width="1.15" stroke-linejoin="round" stroke-linecap="round" /><path d="M41.0 -39.7 L43.4 -44.8 Q46.0 -44.1 47.8 -40.8 L46.4 -34.7" fill="#fff" stroke="#000" stroke-width="1.15" stroke-linejoin="round" stroke-linecap="round" /><path d="M47.6 -33.1 L50.9 -36.8 Q53.2 -34.8 54.3 -30.8 L51.9 -25.6" fill="#fff" stroke="#000" stroke-width="1.15" stroke-linejoin="round" stroke-linecap="round" /><path d="M52.8 -23.5 L56.5 -25.5 Q58.4 -22.4 58.7 -18.1 L55.5 -14.3" fill="#fff" stroke="#000" stroke-width="1.15" stroke-linejoin="round" stroke-linecap="round" /><path d="M56.0 -11.9 L59.9 -11.9 Q61.2 -8.0 60.7 -3.7 L57.0 -1.7" fill="#fff" stroke="#000" stroke-width="1.15" stroke-linejoin="round" stroke-linecap="round" /><path d="M57.0 0.9 L60.8 2.8 Q61.3 7.0 60.1 10.9 L56.1 11.0" fill="#fff" stroke="#000" stroke-width="1.15" stroke-linejoin="round" stroke-linecap="round" /><path d="M55.7 13.5 L59.0 17.1 Q58.7 21.5 56.8 24.6 L53.0 22.8" fill="#fff" stroke="#000" stroke-width="1.15" stroke-linejoin="round" stroke-linecap="round" /><path d="M52.2 24.9 L54.7 30.0 Q53.6 34.0 51.3 36.1 L48.0 32.5" fill="#fff" stroke="#000" stroke-width="1.15" stroke-linejoin="round" stroke-linecap="round" /><path d="M46.8 34.1 L48.3 40.2 Q46.6 43.6 44.0 44.4 L41.5 39.4" fill="#fff" stroke="#000" stroke-width="1.15" stroke-linejoin="round" stroke-linecap="round" /><path d="M40.0 40.3 L40.3 46.8 Q38.1 49.2 35.5 48.7 L34.0 42.7" fill="#fff" stroke="#000" stroke-width="1.15" stroke-linejoin="round" stroke-linecap="round" /><path d="M32.4 42.9 L31.6 49.3 Q29.0 50.5 26.6 48.8 L26.2 42.3" fill="#fff" stroke="#000" stroke-width="1.15" stroke-linejoin="round" stroke-linecap="round" /><path d="M24.7 41.7 L22.8 47.4 Q20.1 47.3 18.1 44.4 L18.9 38.1" fill="#fff" stroke="#000" stroke-width="1.15" stroke-linejoin="round" stroke-linecap="round" /><path d="M17.6 36.8 L14.7 41.3 Q12.2 39.9 10.7 36.2 L12.7 30.5" fill="#fff" stroke="#000" stroke-width="1.15" stroke-linejoin="round" stroke-linecap="round" /><ellipse cx="31" cy="0" rx="25.1" ry="43.4" fill="#fff" stroke="#000" stroke-width="1.35"/><ellipse cx="26" cy="0" rx="24.0" ry="41.5" fill="#fff" stroke="#000" stroke-width="1.35"/><path d="M0 -46 L9 -46 A30 46 0 0 1 9 46 L0 46 Z" fill="#fff" stroke="#000" stroke-width="1.35" stroke-linejoin="round" stroke-linecap="round" /><path d="M5 -46 A30 46 0 0 1 5 46" fill="none" stroke="#000" stroke-width="1.35" stroke-linejoin="round" stroke-linecap="round" /><ellipse cx="0" cy="0" rx="30" ry="46" fill="#fff" stroke="#000" stroke-width="1.4500000000000002"/><ellipse cx="-6" cy="2" rx="9" ry="15" fill="#fff" stroke="#000" stroke-width="1.1"/><ellipse cx="-5" cy="2" rx="6.5" ry="11" fill="none" stroke="#000" stroke-width="1"/><path d="M-17 -6 A13 21 0 0 0 -4 24 M-12 -14 A14 20 0 0 1 6 -8" fill="none" stroke="#000" stroke-width="1.35" stroke-linejoin="round" stroke-linecap="round" /><ellipse cx="13" cy="7" rx="4.5" ry="9" fill="#fff" stroke="#000" stroke-width="1.1"/><ellipse cx="18" cy="8" rx="3.5" ry="7" fill="#fff" stroke="#000" stroke-width="1"/><path d="M-18 -30 a3 5 0 1 1 5 6 M4 26 L12 22 L6 36 Z M-20 -24 Q-4 -32 12 -12 M-3 40 L4 26" fill="none" stroke="#000" stroke-width="1.35" stroke-linejoin="round" stroke-linecap="round" /><ellipse cx="-9" cy="35" rx="2" ry="2.8" fill="none" stroke="#000" stroke-width="1"/><ellipse cx="1" cy="1" rx="24.5" ry="38.5" fill="none" stroke="#000" stroke-width="1.1"/></g>
<g transform="translate(248.1 438.7) rotate(5.2)"><rect x="-10.15" y="-5.8" width="20.3" height="11.6" rx="4.5" fill="#fff" stroke="#000" stroke-width="1.5"/><path d="M-8.65 0.3 L8.65 0.3 M0 -5.8 L0 -3.3 M0 5.8 L0 3.3" stroke="#000" stroke-width="1.2" fill="none"/><ellipse cx="-5.3" cy="-3.0" rx="2.7" ry="1.5" fill="none" stroke="#000" stroke-width="1.15"/><ellipse cx="-5.3" cy="3.0" rx="2.7" ry="1.5" fill="none" stroke="#000" stroke-width="1.15"/><ellipse cx="5.3" cy="-3.0" rx="2.7" ry="1.5" fill="none" stroke="#000" stroke-width="1.15"/><ellipse cx="5.3" cy="3.0" rx="2.7" ry="1.5" fill="none" stroke="#000" stroke-width="1.15"/></g><g transform="translate(266.8 448.1) rotate(32.7)"><rect x="-10.15" y="-5.8" width="20.3" height="11.6" rx="4.5" fill="#fff" stroke="#000" stroke-width="1.5"/><path d="M-8.65 0.3 L8.65 0.3 M0 -5.8 L0 -3.3 M0 5.8 L0 3.3" stroke="#000" stroke-width="1.2" fill="none"/><ellipse cx="-5.3" cy="-3.0" rx="2.7" ry="1.5" fill="none" stroke="#000" stroke-width="1.15"/><ellipse cx="-5.3" cy="3.0" rx="2.7" ry="1.5" fill="none" stroke="#000" stroke-width="1.15"/><ellipse cx="5.3" cy="-3.0" rx="2.7" ry="1.5" fill="none" stroke="#000" stroke-width="1.15"/><ellipse cx="5.3" cy="3.0" rx="2.7" ry="1.5" fill="none" stroke="#000" stroke-width="1.15"/></g><g transform="translate(284.1 460.1) rotate(35.3)"><rect x="-10.15" y="-5.8" width="20.3" height="11.6" rx="4.5" fill="#fff" stroke="#000" stroke-width="1.5"/><path d="M-8.65 0.3 L8.65 0.3 M0 -5.8 L0 -3.3 M0 5.8 L0 3.3" stroke="#000" stroke-width="1.2" fill="none"/><ellipse cx="-5.3" cy="-3.0" rx="2.7" ry="1.5" fill="none" stroke="#000" stroke-width="1.15"/><ellipse cx="-5.3" cy="3.0" rx="2.7" ry="1.5" fill="none" stroke="#000" stroke-width="1.15"/><ellipse cx="5.3" cy="-3.0" rx="2.7" ry="1.5" fill="none" stroke="#000" stroke-width="1.15"/><ellipse cx="5.3" cy="3.0" rx="2.7" ry="1.5" fill="none" stroke="#000" stroke-width="1.15"/></g><g transform="translate(301.5 472.1) rotate(36.1)"><rect x="-10.15" y="-5.8" width="20.3" height="11.6" rx="4.5" fill="#fff" stroke="#000" stroke-width="1.5"/><path d="M-8.65 0.3 L8.65 0.3 M0 -5.8 L0 -3.3 M0 5.8 L0 3.3" stroke="#000" stroke-width="1.2" fill="none"/><ellipse cx="-5.3" cy="-3.0" rx="2.7" ry="1.5" fill="none" stroke="#000" stroke-width="1.15"/><ellipse cx="-5.3" cy="3.0" rx="2.7" ry="1.5" fill="none" stroke="#000" stroke-width="1.15"/><ellipse cx="5.3" cy="-3.0" rx="2.7" ry="1.5" fill="none" stroke="#000" stroke-width="1.15"/><ellipse cx="5.3" cy="3.0" rx="2.7" ry="1.5" fill="none" stroke="#000" stroke-width="1.15"/></g><g transform="translate(318.0 485.2) rotate(42.4)"><rect x="-10.15" y="-5.8" width="20.3" height="11.6" rx="4.5" fill="#fff" stroke="#000" stroke-width="1.5"/><path d="M-8.65 0.3 L8.65 0.3 M0 -5.8 L0 -3.3 M0 5.8 L0 3.3" stroke="#000" stroke-width="1.2" fill="none"/><ellipse cx="-5.3" cy="-3.0" rx="2.7" ry="1.5" fill="none" stroke="#000" stroke-width="1.15"/><ellipse cx="-5.3" cy="3.0" rx="2.7" ry="1.5" fill="none" stroke="#000" stroke-width="1.15"/><ellipse cx="5.3" cy="-3.0" rx="2.7" ry="1.5" fill="none" stroke="#000" stroke-width="1.15"/><ellipse cx="5.3" cy="3.0" rx="2.7" ry="1.5" fill="none" stroke="#000" stroke-width="1.15"/></g><g transform="translate(331.2 501.5) rotate(62.6)"><rect x="-10.15" y="-5.8" width="20.3" height="11.6" rx="4.5" fill="#fff" stroke="#000" stroke-width="1.5"/><path d="M-8.65 0.3 L8.65 0.3 M0 -5.8 L0 -3.3 M0 5.8 L0 3.3" stroke="#000" stroke-width="1.2" fill="none"/><ellipse cx="-5.3" cy="-3.0" rx="2.7" ry="1.5" fill="none" stroke="#000" stroke-width="1.15"/><ellipse cx="-5.3" cy="3.0" rx="2.7" ry="1.5" fill="none" stroke="#000" stroke-width="1.15"/><ellipse cx="5.3" cy="-3.0" rx="2.7" ry="1.5" fill="none" stroke="#000" stroke-width="1.15"/><ellipse cx="5.3" cy="3.0" rx="2.7" ry="1.5" fill="none" stroke="#000" stroke-width="1.15"/></g><g transform="translate(338.3 521.3) rotate(77.3)"><rect x="-10.15" y="-6.2" width="20.3" height="12.4" rx="4.5" fill="#fff" stroke="#000" stroke-width="1.5"/><path d="M-8.65 0.3 L8.65 0.3 M0 -6.2 L0 -3.7 M0 6.2 L0 3.7" stroke="#000" stroke-width="1.2" fill="none"/><ellipse cx="-5.3" cy="-3.2" rx="2.7" ry="1.5" fill="none" stroke="#000" stroke-width="1.15"/><ellipse cx="-5.3" cy="3.2" rx="2.7" ry="1.5" fill="none" stroke="#000" stroke-width="1.15"/><ellipse cx="5.3" cy="-3.2" rx="2.7" ry="1.5" fill="none" stroke="#000" stroke-width="1.15"/><ellipse cx="5.3" cy="3.2" rx="2.7" ry="1.5" fill="none" stroke="#000" stroke-width="1.15"/></g><g transform="translate(340.3 542.2) rotate(94.6)"><rect x="-10.15" y="-6.2" width="20.3" height="12.4" rx="4.5" fill="#fff" stroke="#000" stroke-width="1.5"/><path d="M-8.65 0.3 L8.65 0.3 M0 -6.2 L0 -3.7 M0 6.2 L0 3.7" stroke="#000" stroke-width="1.2" fill="none"/><ellipse cx="-5.3" cy="-3.2" rx="2.7" ry="1.5" fill="none" stroke="#000" stroke-width="1.15"/><ellipse cx="-5.3" cy="3.2" rx="2.7" ry="1.5" fill="none" stroke="#000" stroke-width="1.15"/><ellipse cx="5.3" cy="-3.2" rx="2.7" ry="1.5" fill="none" stroke="#000" stroke-width="1.15"/><ellipse cx="5.3" cy="3.2" rx="2.7" ry="1.5" fill="none" stroke="#000" stroke-width="1.15"/></g><g transform="translate(335.2 562.6) rotate(110.0)"><rect x="-10.15" y="-6.6" width="20.3" height="13.2" rx="4.5" fill="#fff" stroke="#000" stroke-width="1.5"/><path d="M-8.65 0.3 L8.65 0.3 M0 -6.6 L0 -4.1 M0 6.6 L0 4.1" stroke="#000" stroke-width="1.2" fill="none"/><ellipse cx="-5.3" cy="-3.4" rx="2.7" ry="1.5" fill="none" stroke="#000" stroke-width="1.15"/><ellipse cx="-5.3" cy="3.4" rx="2.7" ry="1.5" fill="none" stroke="#000" stroke-width="1.15"/><ellipse cx="5.3" cy="-3.4" rx="2.7" ry="1.5" fill="none" stroke="#000" stroke-width="1.15"/><ellipse cx="5.3" cy="3.4" rx="2.7" ry="1.5" fill="none" stroke="#000" stroke-width="1.15"/></g><g transform="translate(327.6 582.3) rotate(109.2)"><rect x="-10.15" y="-6.6" width="20.3" height="13.2" rx="4.5" fill="#fff" stroke="#000" stroke-width="1.5"/><path d="M-8.65 0.3 L8.65 0.3 M0 -6.6 L0 -4.1 M0 6.6 L0 4.1" stroke="#000" stroke-width="1.2" fill="none"/><ellipse cx="-5.3" cy="-3.4" rx="2.7" ry="1.5" fill="none" stroke="#000" stroke-width="1.15"/><ellipse cx="-5.3" cy="3.4" rx="2.7" ry="1.5" fill="none" stroke="#000" stroke-width="1.15"/><ellipse cx="5.3" cy="-3.4" rx="2.7" ry="1.5" fill="none" stroke="#000" stroke-width="1.15"/><ellipse cx="5.3" cy="3.4" rx="2.7" ry="1.5" fill="none" stroke="#000" stroke-width="1.15"/></g><g transform="translate(321.1 602.3) rotate(106.6)"><rect x="-10.15" y="-6.6" width="20.3" height="13.2" rx="4.5" fill="#fff" stroke="#000" stroke-width="1.5"/><path d="M-8.65 0.3 L8.65 0.3 M0 -6.6 L0 -4.1 M0 6.6 L0 4.1" stroke="#000" stroke-width="1.2" fill="none"/><ellipse cx="-5.3" cy="-3.4" rx="2.7" ry="1.5" fill="none" stroke="#000" stroke-width="1.15"/><ellipse cx="-5.3" cy="3.4" rx="2.7" ry="1.5" fill="none" stroke="#000" stroke-width="1.15"/><ellipse cx="5.3" cy="-3.4" rx="2.7" ry="1.5" fill="none" stroke="#000" stroke-width="1.15"/><ellipse cx="5.3" cy="3.4" rx="2.7" ry="1.5" fill="none" stroke="#000" stroke-width="1.15"/></g><g transform="translate(315.2 622.6) rotate(105.1)"><rect x="-10.15" y="-6.6" width="20.3" height="13.2" rx="4.5" fill="#fff" stroke="#000" stroke-width="1.5"/><path d="M-8.65 0.3 L8.65 0.3 M0 -6.6 L0 -4.1 M0 6.6 L0 4.1" stroke="#000" stroke-width="1.2" fill="none"/><ellipse cx="-5.3" cy="-3.4" rx="2.7" ry="1.5" fill="none" stroke="#000" stroke-width="1.15"/><ellipse cx="-5.3" cy="3.4" rx="2.7" ry="1.5" fill="none" stroke="#000" stroke-width="1.15"/><ellipse cx="5.3" cy="-3.4" rx="2.7" ry="1.5" fill="none" stroke="#000" stroke-width="1.15"/><ellipse cx="5.3" cy="3.4" rx="2.7" ry="1.5" fill="none" stroke="#000" stroke-width="1.15"/></g><g transform="translate(310.2 643.1) rotate(102.8)"><rect x="-10.15" y="-6.6" width="20.3" height="13.2" rx="4.5" fill="#fff" stroke="#000" stroke-width="1.5"/><path d="M-8.65 0.3 L8.65 0.3 M0 -6.6 L0 -4.1 M0 6.6 L0 4.1" stroke="#000" stroke-width="1.2" fill="none"/><ellipse cx="-5.3" cy="-3.4" rx="2.7" ry="1.5" fill="none" stroke="#000" stroke-width="1.15"/><ellipse cx="-5.3" cy="3.4" rx="2.7" ry="1.5" fill="none" stroke="#000" stroke-width="1.15"/><ellipse cx="5.3" cy="-3.4" rx="2.7" ry="1.5" fill="none" stroke="#000" stroke-width="1.15"/><ellipse cx="5.3" cy="3.4" rx="2.7" ry="1.5" fill="none" stroke="#000" stroke-width="1.15"/></g><g transform="translate(306.0 663.8) rotate(100.4)"><rect x="-10.15" y="-6.6" width="20.3" height="13.2" rx="4.5" fill="#fff" stroke="#000" stroke-width="1.5"/><path d="M-8.65 0.3 L8.65 0.3 M0 -6.6 L0 -4.1 M0 6.6 L0 4.1" stroke="#000" stroke-width="1.2" fill="none"/><ellipse cx="-5.3" cy="-3.4" rx="2.7" ry="1.5" fill="none" stroke="#000" stroke-width="1.15"/><ellipse cx="-5.3" cy="3.4" rx="2.7" ry="1.5" fill="none" stroke="#000" stroke-width="1.15"/><ellipse cx="5.3" cy="-3.4" rx="2.7" ry="1.5" fill="none" stroke="#000" stroke-width="1.15"/><ellipse cx="5.3" cy="3.4" rx="2.7" ry="1.5" fill="none" stroke="#000" stroke-width="1.15"/></g><g transform="translate(302.6 684.6) rotate(97.8)"><rect x="-10.15" y="-6.6" width="20.3" height="13.2" rx="4.5" fill="#fff" stroke="#000" stroke-width="1.5"/><path d="M-8.65 0.3 L8.65 0.3 M0 -6.6 L0 -4.1 M0 6.6 L0 4.1" stroke="#000" stroke-width="1.2" fill="none"/><ellipse cx="-5.3" cy="-3.4" rx="2.7" ry="1.5" fill="none" stroke="#000" stroke-width="1.15"/><ellipse cx="-5.3" cy="3.4" rx="2.7" ry="1.5" fill="none" stroke="#000" stroke-width="1.15"/><ellipse cx="5.3" cy="-3.4" rx="2.7" ry="1.5" fill="none" stroke="#000" stroke-width="1.15"/><ellipse cx="5.3" cy="3.4" rx="2.7" ry="1.5" fill="none" stroke="#000" stroke-width="1.15"/></g><g transform="translate(300.1 705.5) rotate(95.7)"><rect x="-10.15" y="-6.6" width="20.3" height="13.2" rx="4.5" fill="#fff" stroke="#000" stroke-width="1.5"/><path d="M-8.65 0.3 L8.65 0.3 M0 -6.6 L0 -4.1 M0 6.6 L0 4.1" stroke="#000" stroke-width="1.2" fill="none"/><ellipse cx="-5.3" cy="-3.4" rx="2.7" ry="1.5" fill="none" stroke="#000" stroke-width="1.15"/><ellipse cx="-5.3" cy="3.4" rx="2.7" ry="1.5" fill="none" stroke="#000" stroke-width="1.15"/><ellipse cx="5.3" cy="-3.4" rx="2.7" ry="1.5" fill="none" stroke="#000" stroke-width="1.15"/><ellipse cx="5.3" cy="3.4" rx="2.7" ry="1.5" fill="none" stroke="#000" stroke-width="1.15"/></g><g transform="translate(298.5 726.6) rotate(93.6)"><rect x="-10.15" y="-6.6" width="20.3" height="13.2" rx="4.5" fill="#fff" stroke="#000" stroke-width="1.5"/><path d="M-8.65 0.3 L8.65 0.3 M0 -6.6 L0 -4.1 M0 6.6 L0 4.1" stroke="#000" stroke-width="1.2" fill="none"/><ellipse cx="-5.3" cy="-3.4" rx="2.7" ry="1.5" fill="none" stroke="#000" stroke-width="1.15"/><ellipse cx="-5.3" cy="3.4" rx="2.7" ry="1.5" fill="none" stroke="#000" stroke-width="1.15"/><ellipse cx="5.3" cy="-3.4" rx="2.7" ry="1.5" fill="none" stroke="#000" stroke-width="1.15"/><ellipse cx="5.3" cy="3.4" rx="2.7" ry="1.5" fill="none" stroke="#000" stroke-width="1.15"/></g><g transform="translate(297.2 747.7) rotate(92.9)"><rect x="-10.15" y="-6.6" width="20.3" height="13.2" rx="4.5" fill="#fff" stroke="#000" stroke-width="1.5"/><path d="M-8.65 0.3 L8.65 0.3 M0 -6.6 L0 -4.1 M0 6.6 L0 4.1" stroke="#000" stroke-width="1.2" fill="none"/><ellipse cx="-5.3" cy="-3.4" rx="2.7" ry="1.5" fill="none" stroke="#000" stroke-width="1.15"/><ellipse cx="-5.3" cy="3.4" rx="2.7" ry="1.5" fill="none" stroke="#000" stroke-width="1.15"/><ellipse cx="5.3" cy="-3.4" rx="2.7" ry="1.5" fill="none" stroke="#000" stroke-width="1.15"/><ellipse cx="5.3" cy="3.4" rx="2.7" ry="1.5" fill="none" stroke="#000" stroke-width="1.15"/></g><g transform="translate(296.3 768.7) rotate(92.6)"><rect x="-10.15" y="-6.6" width="20.3" height="13.2" rx="4.5" fill="#fff" stroke="#000" stroke-width="1.5"/><path d="M-8.65 0.3 L8.65 0.3 M0 -6.6 L0 -4.1 M0 6.6 L0 4.1" stroke="#000" stroke-width="1.2" fill="none"/><ellipse cx="-5.3" cy="-3.4" rx="2.7" ry="1.5" fill="none" stroke="#000" stroke-width="1.15"/><ellipse cx="-5.3" cy="3.4" rx="2.7" ry="1.5" fill="none" stroke="#000" stroke-width="1.15"/><ellipse cx="5.3" cy="-3.4" rx="2.7" ry="1.5" fill="none" stroke="#000" stroke-width="1.15"/><ellipse cx="5.3" cy="3.4" rx="2.7" ry="1.5" fill="none" stroke="#000" stroke-width="1.15"/></g><g transform="translate(295.6 789.8) rotate(91.1)"><rect x="-10.15" y="-6.6" width="20.3" height="13.2" rx="4.5" fill="#fff" stroke="#000" stroke-width="1.5"/><path d="M-8.65 0.3 L8.65 0.3 M0 -6.6 L0 -4.1 M0 6.6 L0 4.1" stroke="#000" stroke-width="1.2" fill="none"/><ellipse cx="-5.3" cy="-3.4" rx="2.7" ry="1.5" fill="none" stroke="#000" stroke-width="1.15"/><ellipse cx="-5.3" cy="3.4" rx="2.7" ry="1.5" fill="none" stroke="#000" stroke-width="1.15"/><ellipse cx="5.3" cy="-3.4" rx="2.7" ry="1.5" fill="none" stroke="#000" stroke-width="1.15"/><ellipse cx="5.3" cy="3.4" rx="2.7" ry="1.5" fill="none" stroke="#000" stroke-width="1.15"/></g><g transform="translate(295.8 810.9) rotate(88.0)"><rect x="-10.15" y="-6.6" width="20.3" height="13.2" rx="4.5" fill="#fff" stroke="#000" stroke-width="1.5"/><path d="M-8.65 0.3 L8.65 0.3 M0 -6.6 L0 -4.1 M0 6.6 L0 4.1" stroke="#000" stroke-width="1.2" fill="none"/><ellipse cx="-5.3" cy="-3.4" rx="2.7" ry="1.5" fill="none" stroke="#000" stroke-width="1.15"/><ellipse cx="-5.3" cy="3.4" rx="2.7" ry="1.5" fill="none" stroke="#000" stroke-width="1.15"/><ellipse cx="5.3" cy="-3.4" rx="2.7" ry="1.5" fill="none" stroke="#000" stroke-width="1.15"/><ellipse cx="5.3" cy="3.4" rx="2.7" ry="1.5" fill="none" stroke="#000" stroke-width="1.15"/></g><g transform="translate(297.3 832.0) rotate(85.2)"><rect x="-10.15" y="-6.6" width="20.3" height="13.2" rx="4.5" fill="#fff" stroke="#000" stroke-width="1.5"/><path d="M-8.65 0.3 L8.65 0.3 M0 -6.6 L0 -4.1 M0 6.6 L0 4.1" stroke="#000" stroke-width="1.2" fill="none"/><ellipse cx="-5.3" cy="-3.4" rx="2.7" ry="1.5" fill="none" stroke="#000" stroke-width="1.15"/><ellipse cx="-5.3" cy="3.4" rx="2.7" ry="1.5" fill="none" stroke="#000" stroke-width="1.15"/><ellipse cx="5.3" cy="-3.4" rx="2.7" ry="1.5" fill="none" stroke="#000" stroke-width="1.15"/><ellipse cx="5.3" cy="3.4" rx="2.7" ry="1.5" fill="none" stroke="#000" stroke-width="1.15"/></g><g transform="translate(299.8 852.9) rotate(81.7)"><rect x="-10.15" y="-6.6" width="20.3" height="13.2" rx="4.5" fill="#fff" stroke="#000" stroke-width="1.5"/><path d="M-8.65 0.3 L8.65 0.3 M0 -6.6 L0 -4.1 M0 6.6 L0 4.1" stroke="#000" stroke-width="1.2" fill="none"/><ellipse cx="-5.3" cy="-3.4" rx="2.7" ry="1.5" fill="none" stroke="#000" stroke-width="1.15"/><ellipse cx="-5.3" cy="3.4" rx="2.7" ry="1.5" fill="none" stroke="#000" stroke-width="1.15"/><ellipse cx="5.3" cy="-3.4" rx="2.7" ry="1.5" fill="none" stroke="#000" stroke-width="1.15"/><ellipse cx="5.3" cy="3.4" rx="2.7" ry="1.5" fill="none" stroke="#000" stroke-width="1.15"/></g><g transform="translate(302.8 873.8) rotate(82.3)"><rect x="-10.15" y="-6.6" width="20.3" height="13.2" rx="4.5" fill="#fff" stroke="#000" stroke-width="1.5"/><path d="M-8.65 0.3 L8.65 0.3 M0 -6.6 L0 -4.1 M0 6.6 L0 4.1" stroke="#000" stroke-width="1.2" fill="none"/><ellipse cx="-5.3" cy="-3.4" rx="2.7" ry="1.5" fill="none" stroke="#000" stroke-width="1.15"/><ellipse cx="-5.3" cy="3.4" rx="2.7" ry="1.5" fill="none" stroke="#000" stroke-width="1.15"/><ellipse cx="5.3" cy="-3.4" rx="2.7" ry="1.5" fill="none" stroke="#000" stroke-width="1.15"/><ellipse cx="5.3" cy="3.4" rx="2.7" ry="1.5" fill="none" stroke="#000" stroke-width="1.15"/></g><g transform="translate(304.8 894.8) rotate(87.5)"><rect x="-10.15" y="-5.8" width="20.3" height="11.6" rx="4.5" fill="#fff" stroke="#000" stroke-width="1.5"/><path d="M-8.65 0.3 L8.65 0.3 M0 -5.8 L0 -3.3 M0 5.8 L0 3.3" stroke="#000" stroke-width="1.2" fill="none"/><ellipse cx="-5.3" cy="-3.0" rx="2.7" ry="1.5" fill="none" stroke="#000" stroke-width="1.15"/><ellipse cx="-5.3" cy="3.0" rx="2.7" ry="1.5" fill="none" stroke="#000" stroke-width="1.15"/><ellipse cx="5.3" cy="-3.0" rx="2.7" ry="1.5" fill="none" stroke="#000" stroke-width="1.15"/><ellipse cx="5.3" cy="3.0" rx="2.7" ry="1.5" fill="none" stroke="#000" stroke-width="1.15"/></g><g transform="translate(302.2 915.6) rotate(115.1)"><rect x="-10.15" y="-5.8" width="20.3" height="11.6" rx="4.5" fill="#fff" stroke="#000" stroke-width="1.5"/><path d="M-8.65 0.3 L8.65 0.3 M0 -5.8 L0 -3.3 M0 5.8 L0 3.3" stroke="#000" stroke-width="1.2" fill="none"/><ellipse cx="-5.3" cy="-3.0" rx="2.7" ry="1.5" fill="none" stroke="#000" stroke-width="1.15"/><ellipse cx="-5.3" cy="3.0" rx="2.7" ry="1.5" fill="none" stroke="#000" stroke-width="1.15"/><ellipse cx="5.3" cy="-3.0" rx="2.7" ry="1.5" fill="none" stroke="#000" stroke-width="1.15"/><ellipse cx="5.3" cy="3.0" rx="2.7" ry="1.5" fill="none" stroke="#000" stroke-width="1.15"/></g><g transform="translate(286.1 919.1) rotate(-137.2)"><rect x="-10.15" y="-5.8" width="20.3" height="11.6" rx="4.5" fill="#fff" stroke="#000" stroke-width="1.5"/><path d="M-8.65 0.3 L8.65 0.3 M0 -5.8 L0 -3.3 M0 5.8 L0 3.3" stroke="#000" stroke-width="1.2" fill="none"/><ellipse cx="-5.3" cy="-3.0" rx="2.7" ry="1.5" fill="none" stroke="#000" stroke-width="1.15"/><ellipse cx="-5.3" cy="3.0" rx="2.7" ry="1.5" fill="none" stroke="#000" stroke-width="1.15"/><ellipse cx="5.3" cy="-3.0" rx="2.7" ry="1.5" fill="none" stroke="#000" stroke-width="1.15"/><ellipse cx="5.3" cy="3.0" rx="2.7" ry="1.5" fill="none" stroke="#000" stroke-width="1.15"/></g><g transform="translate(274.9 901.5) rotate(-106.9)"><rect x="-10.15" y="-5.8" width="20.3" height="11.6" rx="4.5" fill="#fff" stroke="#000" stroke-width="1.5"/><path d="M-8.65 0.3 L8.65 0.3 M0 -5.8 L0 -3.3 M0 5.8 L0 3.3" stroke="#000" stroke-width="1.2" fill="none"/><ellipse cx="-5.3" cy="-3.0" rx="2.7" ry="1.5" fill="none" stroke="#000" stroke-width="1.15"/><ellipse cx="-5.3" cy="3.0" rx="2.7" ry="1.5" fill="none" stroke="#000" stroke-width="1.15"/><ellipse cx="5.3" cy="-3.0" rx="2.7" ry="1.5" fill="none" stroke="#000" stroke-width="1.15"/><ellipse cx="5.3" cy="3.0" rx="2.7" ry="1.5" fill="none" stroke="#000" stroke-width="1.15"/></g><g transform="translate(272.4 880.7) rotate(-90.5)"><rect x="-10.15" y="-6.6" width="20.3" height="13.2" rx="4.5" fill="#fff" stroke="#000" stroke-width="1.5"/><path d="M-8.65 0.3 L8.65 0.3 M0 -6.6 L0 -4.1 M0 6.6 L0 4.1" stroke="#000" stroke-width="1.2" fill="none"/><ellipse cx="-5.3" cy="-3.4" rx="2.7" ry="1.5" fill="none" stroke="#000" stroke-width="1.15"/><ellipse cx="-5.3" cy="3.4" rx="2.7" ry="1.5" fill="none" stroke="#000" stroke-width="1.15"/><ellipse cx="5.3" cy="-3.4" rx="2.7" ry="1.5" fill="none" stroke="#000" stroke-width="1.15"/><ellipse cx="5.3" cy="3.4" rx="2.7" ry="1.5" fill="none" stroke="#000" stroke-width="1.15"/></g><g transform="translate(274.0 859.6) rotate(-85.1)"><rect x="-10.15" y="-6.6" width="20.3" height="13.2" rx="4.5" fill="#fff" stroke="#000" stroke-width="1.5"/><path d="M-8.65 0.3 L8.65 0.3 M0 -6.6 L0 -4.1 M0 6.6 L0 4.1" stroke="#000" stroke-width="1.2" fill="none"/><ellipse cx="-5.3" cy="-3.4" rx="2.7" ry="1.5" fill="none" stroke="#000" stroke-width="1.15"/><ellipse cx="-5.3" cy="3.4" rx="2.7" ry="1.5" fill="none" stroke="#000" stroke-width="1.15"/><ellipse cx="5.3" cy="-3.4" rx="2.7" ry="1.5" fill="none" stroke="#000" stroke-width="1.15"/><ellipse cx="5.3" cy="3.4" rx="2.7" ry="1.5" fill="none" stroke="#000" stroke-width="1.15"/></g><g transform="translate(275.6 838.6) rotate(-86.2)"><rect x="-10.15" y="-6.6" width="20.3" height="13.2" rx="4.5" fill="#fff" stroke="#000" stroke-width="1.5"/><path d="M-8.65 0.3 L8.65 0.3 M0 -6.6 L0 -4.1 M0 6.6 L0 4.1" stroke="#000" stroke-width="1.2" fill="none"/><ellipse cx="-5.3" cy="-3.4" rx="2.7" ry="1.5" fill="none" stroke="#000" stroke-width="1.15"/><ellipse cx="-5.3" cy="3.4" rx="2.7" ry="1.5" fill="none" stroke="#000" stroke-width="1.15"/><ellipse cx="5.3" cy="-3.4" rx="2.7" ry="1.5" fill="none" stroke="#000" stroke-width="1.15"/><ellipse cx="5.3" cy="3.4" rx="2.7" ry="1.5" fill="none" stroke="#000" stroke-width="1.15"/></g><g transform="translate(276.9 817.5) rotate(-86.8)"><rect x="-10.15" y="-6.6" width="20.3" height="13.2" rx="4.5" fill="#fff" stroke="#000" stroke-width="1.5"/><path d="M-8.65 0.3 L8.65 0.3 M0 -6.6 L0 -4.1 M0 6.6 L0 4.1" stroke="#000" stroke-width="1.2" fill="none"/><ellipse cx="-5.3" cy="-3.4" rx="2.7" ry="1.5" fill="none" stroke="#000" stroke-width="1.15"/><ellipse cx="-5.3" cy="3.4" rx="2.7" ry="1.5" fill="none" stroke="#000" stroke-width="1.15"/><ellipse cx="5.3" cy="-3.4" rx="2.7" ry="1.5" fill="none" stroke="#000" stroke-width="1.15"/><ellipse cx="5.3" cy="3.4" rx="2.7" ry="1.5" fill="none" stroke="#000" stroke-width="1.15"/></g><g transform="translate(278.1 796.5) rotate(-87.0)"><rect x="-10.15" y="-6.6" width="20.3" height="13.2" rx="4.5" fill="#fff" stroke="#000" stroke-width="1.5"/><path d="M-8.65 0.3 L8.65 0.3 M0 -6.6 L0 -4.1 M0 6.6 L0 4.1" stroke="#000" stroke-width="1.2" fill="none"/><ellipse cx="-5.3" cy="-3.4" rx="2.7" ry="1.5" fill="none" stroke="#000" stroke-width="1.15"/><ellipse cx="-5.3" cy="3.4" rx="2.7" ry="1.5" fill="none" stroke="#000" stroke-width="1.15"/><ellipse cx="5.3" cy="-3.4" rx="2.7" ry="1.5" fill="none" stroke="#000" stroke-width="1.15"/><ellipse cx="5.3" cy="3.4" rx="2.7" ry="1.5" fill="none" stroke="#000" stroke-width="1.15"/></g><g transform="translate(279.1 775.4) rotate(-87.5)"><rect x="-10.15" y="-6.6" width="20.3" height="13.2" rx="4.5" fill="#fff" stroke="#000" stroke-width="1.5"/><path d="M-8.65 0.3 L8.65 0.3 M0 -6.6 L0 -4.1 M0 6.6 L0 4.1" stroke="#000" stroke-width="1.2" fill="none"/><ellipse cx="-5.3" cy="-3.4" rx="2.7" ry="1.5" fill="none" stroke="#000" stroke-width="1.15"/><ellipse cx="-5.3" cy="3.4" rx="2.7" ry="1.5" fill="none" stroke="#000" stroke-width="1.15"/><ellipse cx="5.3" cy="-3.4" rx="2.7" ry="1.5" fill="none" stroke="#000" stroke-width="1.15"/><ellipse cx="5.3" cy="3.4" rx="2.7" ry="1.5" fill="none" stroke="#000" stroke-width="1.15"/></g><g transform="translate(279.8 754.3) rotate(-88.5)"><rect x="-10.15" y="-6.6" width="20.3" height="13.2" rx="4.5" fill="#fff" stroke="#000" stroke-width="1.5"/><path d="M-8.65 0.3 L8.65 0.3 M0 -6.6 L0 -4.1 M0 6.6 L0 4.1" stroke="#000" stroke-width="1.2" fill="none"/><ellipse cx="-5.3" cy="-3.4" rx="2.7" ry="1.5" fill="none" stroke="#000" stroke-width="1.15"/><ellipse cx="-5.3" cy="3.4" rx="2.7" ry="1.5" fill="none" stroke="#000" stroke-width="1.15"/><ellipse cx="5.3" cy="-3.4" rx="2.7" ry="1.5" fill="none" stroke="#000" stroke-width="1.15"/><ellipse cx="5.3" cy="3.4" rx="2.7" ry="1.5" fill="none" stroke="#000" stroke-width="1.15"/></g><g transform="translate(280.2 733.2) rotate(-89.4)"><rect x="-10.15" y="-6.6" width="20.3" height="13.2" rx="4.5" fill="#fff" stroke="#000" stroke-width="1.5"/><path d="M-8.65 0.3 L8.65 0.3 M0 -6.6 L0 -4.1 M0 6.6 L0 4.1" stroke="#000" stroke-width="1.2" fill="none"/><ellipse cx="-5.3" cy="-3.4" rx="2.7" ry="1.5" fill="none" stroke="#000" stroke-width="1.15"/><ellipse cx="-5.3" cy="3.4" rx="2.7" ry="1.5" fill="none" stroke="#000" stroke-width="1.15"/><ellipse cx="5.3" cy="-3.4" rx="2.7" ry="1.5" fill="none" stroke="#000" stroke-width="1.15"/><ellipse cx="5.3" cy="3.4" rx="2.7" ry="1.5" fill="none" stroke="#000" stroke-width="1.15"/></g><g transform="translate(280.4 712.1) rotate(-89.5)"><rect x="-10.15" y="-6.6" width="20.3" height="13.2" rx="4.5" fill="#fff" stroke="#000" stroke-width="1.5"/><path d="M-8.65 0.3 L8.65 0.3 M0 -6.6 L0 -4.1 M0 6.6 L0 4.1" stroke="#000" stroke-width="1.2" fill="none"/><ellipse cx="-5.3" cy="-3.4" rx="2.7" ry="1.5" fill="none" stroke="#000" stroke-width="1.15"/><ellipse cx="-5.3" cy="3.4" rx="2.7" ry="1.5" fill="none" stroke="#000" stroke-width="1.15"/><ellipse cx="5.3" cy="-3.4" rx="2.7" ry="1.5" fill="none" stroke="#000" stroke-width="1.15"/><ellipse cx="5.3" cy="3.4" rx="2.7" ry="1.5" fill="none" stroke="#000" stroke-width="1.15"/></g><g transform="translate(280.6 691.0) rotate(-89.5)"><rect x="-10.15" y="-6.6" width="20.3" height="13.2" rx="4.5" fill="#fff" stroke="#000" stroke-width="1.5"/><path d="M-8.65 0.3 L8.65 0.3 M0 -6.6 L0 -4.1 M0 6.6 L0 4.1" stroke="#000" stroke-width="1.2" fill="none"/><ellipse cx="-5.3" cy="-3.4" rx="2.7" ry="1.5" fill="none" stroke="#000" stroke-width="1.15"/><ellipse cx="-5.3" cy="3.4" rx="2.7" ry="1.5" fill="none" stroke="#000" stroke-width="1.15"/><ellipse cx="5.3" cy="-3.4" rx="2.7" ry="1.5" fill="none" stroke="#000" stroke-width="1.15"/><ellipse cx="5.3" cy="3.4" rx="2.7" ry="1.5" fill="none" stroke="#000" stroke-width="1.15"/></g><g transform="translate(280.8 669.9) rotate(-89.6)"><rect x="-10.15" y="-6.6" width="20.3" height="13.2" rx="4.5" fill="#fff" stroke="#000" stroke-width="1.5"/><path d="M-8.65 0.3 L8.65 0.3 M0 -6.6 L0 -4.1 M0 6.6 L0 4.1" stroke="#000" stroke-width="1.2" fill="none"/><ellipse cx="-5.3" cy="-3.4" rx="2.7" ry="1.5" fill="none" stroke="#000" stroke-width="1.15"/><ellipse cx="-5.3" cy="3.4" rx="2.7" ry="1.5" fill="none" stroke="#000" stroke-width="1.15"/><ellipse cx="5.3" cy="-3.4" rx="2.7" ry="1.5" fill="none" stroke="#000" stroke-width="1.15"/><ellipse cx="5.3" cy="3.4" rx="2.7" ry="1.5" fill="none" stroke="#000" stroke-width="1.15"/></g><g transform="translate(280.7 648.8) rotate(-91.5)"><rect x="-10.15" y="-6.6" width="20.3" height="13.2" rx="4.5" fill="#fff" stroke="#000" stroke-width="1.5"/><path d="M-8.65 0.3 L8.65 0.3 M0 -6.6 L0 -4.1 M0 6.6 L0 4.1" stroke="#000" stroke-width="1.2" fill="none"/><ellipse cx="-5.3" cy="-3.4" rx="2.7" ry="1.5" fill="none" stroke="#000" stroke-width="1.15"/><ellipse cx="-5.3" cy="3.4" rx="2.7" ry="1.5" fill="none" stroke="#000" stroke-width="1.15"/><ellipse cx="5.3" cy="-3.4" rx="2.7" ry="1.5" fill="none" stroke="#000" stroke-width="1.15"/><ellipse cx="5.3" cy="3.4" rx="2.7" ry="1.5" fill="none" stroke="#000" stroke-width="1.15"/></g><g transform="translate(279.8 627.7) rotate(-95.7)"><rect x="-10.15" y="-6.6" width="20.3" height="13.2" rx="4.5" fill="#fff" stroke="#000" stroke-width="1.5"/><path d="M-8.65 0.3 L8.65 0.3 M0 -6.6 L0 -4.1 M0 6.6 L0 4.1" stroke="#000" stroke-width="1.2" fill="none"/><ellipse cx="-5.3" cy="-3.4" rx="2.7" ry="1.5" fill="none" stroke="#000" stroke-width="1.15"/><ellipse cx="-5.3" cy="3.4" rx="2.7" ry="1.5" fill="none" stroke="#000" stroke-width="1.15"/><ellipse cx="5.3" cy="-3.4" rx="2.7" ry="1.5" fill="none" stroke="#000" stroke-width="1.15"/><ellipse cx="5.3" cy="3.4" rx="2.7" ry="1.5" fill="none" stroke="#000" stroke-width="1.15"/></g><g transform="translate(277.2 606.8) rotate(-98.3)"><rect x="-10.15" y="-6.6" width="20.3" height="13.2" rx="4.5" fill="#fff" stroke="#000" stroke-width="1.5"/><path d="M-8.65 0.3 L8.65 0.3 M0 -6.6 L0 -4.1 M0 6.6 L0 4.1" stroke="#000" stroke-width="1.2" fill="none"/><ellipse cx="-5.3" cy="-3.4" rx="2.7" ry="1.5" fill="none" stroke="#000" stroke-width="1.15"/><ellipse cx="-5.3" cy="3.4" rx="2.7" ry="1.5" fill="none" stroke="#000" stroke-width="1.15"/><ellipse cx="5.3" cy="-3.4" rx="2.7" ry="1.5" fill="none" stroke="#000" stroke-width="1.15"/><ellipse cx="5.3" cy="3.4" rx="2.7" ry="1.5" fill="none" stroke="#000" stroke-width="1.15"/></g><g transform="translate(273.0 586.1) rotate(-103.8)"><rect x="-10.15" y="-6.6" width="20.3" height="13.2" rx="4.5" fill="#fff" stroke="#000" stroke-width="1.5"/><path d="M-8.65 0.3 L8.65 0.3 M0 -6.6 L0 -4.1 M0 6.6 L0 4.1" stroke="#000" stroke-width="1.2" fill="none"/><ellipse cx="-5.3" cy="-3.4" rx="2.7" ry="1.5" fill="none" stroke="#000" stroke-width="1.15"/><ellipse cx="-5.3" cy="3.4" rx="2.7" ry="1.5" fill="none" stroke="#000" stroke-width="1.15"/><ellipse cx="5.3" cy="-3.4" rx="2.7" ry="1.5" fill="none" stroke="#000" stroke-width="1.15"/><ellipse cx="5.3" cy="3.4" rx="2.7" ry="1.5" fill="none" stroke="#000" stroke-width="1.15"/></g><g transform="translate(265.9 566.3) rotate(-115.5)"><rect x="-10.15" y="-6.6" width="20.3" height="13.2" rx="4.5" fill="#fff" stroke="#000" stroke-width="1.5"/><path d="M-8.65 0.3 L8.65 0.3 M0 -6.6 L0 -4.1 M0 6.6 L0 4.1" stroke="#000" stroke-width="1.2" fill="none"/><ellipse cx="-5.3" cy="-3.4" rx="2.7" ry="1.5" fill="none" stroke="#000" stroke-width="1.15"/><ellipse cx="-5.3" cy="3.4" rx="2.7" ry="1.5" fill="none" stroke="#000" stroke-width="1.15"/><ellipse cx="5.3" cy="-3.4" rx="2.7" ry="1.5" fill="none" stroke="#000" stroke-width="1.15"/><ellipse cx="5.3" cy="3.4" rx="2.7" ry="1.5" fill="none" stroke="#000" stroke-width="1.15"/></g><g transform="translate(254.7 548.5) rotate(-128.7)"><rect x="-10.15" y="-6.2" width="20.3" height="12.4" rx="4.5" fill="#fff" stroke="#000" stroke-width="1.5"/><path d="M-8.65 0.3 L8.65 0.3 M0 -6.2 L0 -3.7 M0 6.2 L0 3.7" stroke="#000" stroke-width="1.2" fill="none"/><ellipse cx="-5.3" cy="-3.2" rx="2.7" ry="1.5" fill="none" stroke="#000" stroke-width="1.15"/><ellipse cx="-5.3" cy="3.2" rx="2.7" ry="1.5" fill="none" stroke="#000" stroke-width="1.15"/><ellipse cx="5.3" cy="-3.2" rx="2.7" ry="1.5" fill="none" stroke="#000" stroke-width="1.15"/><ellipse cx="5.3" cy="3.2" rx="2.7" ry="1.5" fill="none" stroke="#000" stroke-width="1.15"/></g><g transform="translate(242.3 531.4) rotate(-120.8)"><rect x="-10.15" y="-6.2" width="20.3" height="12.4" rx="4.5" fill="#fff" stroke="#000" stroke-width="1.5"/><path d="M-8.65 0.3 L8.65 0.3 M0 -6.2 L0 -3.7 M0 6.2 L0 3.7" stroke="#000" stroke-width="1.2" fill="none"/><ellipse cx="-5.3" cy="-3.2" rx="2.7" ry="1.5" fill="none" stroke="#000" stroke-width="1.15"/><ellipse cx="-5.3" cy="3.2" rx="2.7" ry="1.5" fill="none" stroke="#000" stroke-width="1.15"/><ellipse cx="5.3" cy="-3.2" rx="2.7" ry="1.5" fill="none" stroke="#000" stroke-width="1.15"/><ellipse cx="5.3" cy="3.2" rx="2.7" ry="1.5" fill="none" stroke="#000" stroke-width="1.15"/></g><g transform="translate(232.9 512.6) rotate(-107.4)"><rect x="-10.15" y="-6.2" width="20.3" height="12.4" rx="4.5" fill="#fff" stroke="#000" stroke-width="1.5"/><path d="M-8.65 0.3 L8.65 0.3 M0 -6.2 L0 -3.7 M0 6.2 L0 3.7" stroke="#000" stroke-width="1.2" fill="none"/><ellipse cx="-5.3" cy="-3.2" rx="2.7" ry="1.5" fill="none" stroke="#000" stroke-width="1.15"/><ellipse cx="-5.3" cy="3.2" rx="2.7" ry="1.5" fill="none" stroke="#000" stroke-width="1.15"/><ellipse cx="5.3" cy="-3.2" rx="2.7" ry="1.5" fill="none" stroke="#000" stroke-width="1.15"/><ellipse cx="5.3" cy="3.2" rx="2.7" ry="1.5" fill="none" stroke="#000" stroke-width="1.15"/></g><g transform="translate(228.7 491.9) rotate(-96.8)"><rect x="-10.15" y="-5.8" width="20.3" height="11.6" rx="4.5" fill="#fff" stroke="#000" stroke-width="1.5"/><path d="M-8.65 0.3 L8.65 0.3 M0 -5.8 L0 -3.3 M0 5.8 L0 3.3" stroke="#000" stroke-width="1.2" fill="none"/><ellipse cx="-5.3" cy="-3.0" rx="2.7" ry="1.5" fill="none" stroke="#000" stroke-width="1.15"/><ellipse cx="-5.3" cy="3.0" rx="2.7" ry="1.5" fill="none" stroke="#000" stroke-width="1.15"/><ellipse cx="5.3" cy="-3.0" rx="2.7" ry="1.5" fill="none" stroke="#000" stroke-width="1.15"/><ellipse cx="5.3" cy="3.0" rx="2.7" ry="1.5" fill="none" stroke="#000" stroke-width="1.15"/></g><g transform="translate(227.7 470.9) rotate(-89.2)"><rect x="-10.15" y="-5.8" width="20.3" height="11.6" rx="4.5" fill="#fff" stroke="#000" stroke-width="1.5"/><path d="M-8.65 0.3 L8.65 0.3 M0 -5.8 L0 -3.3 M0 5.8 L0 3.3" stroke="#000" stroke-width="1.2" fill="none"/><ellipse cx="-5.3" cy="-3.0" rx="2.7" ry="1.5" fill="none" stroke="#000" stroke-width="1.15"/><ellipse cx="-5.3" cy="3.0" rx="2.7" ry="1.5" fill="none" stroke="#000" stroke-width="1.15"/><ellipse cx="5.3" cy="-3.0" rx="2.7" ry="1.5" fill="none" stroke="#000" stroke-width="1.15"/><ellipse cx="5.3" cy="3.0" rx="2.7" ry="1.5" fill="none" stroke="#000" stroke-width="1.15"/></g><g transform="translate(231.7 450.3) rotate(-60.8)"><rect x="-10.15" y="-5.8" width="20.3" height="11.6" rx="4.5" fill="#fff" stroke="#000" stroke-width="1.5"/><path d="M-8.65 0.3 L8.65 0.3 M0 -5.8 L0 -3.3 M0 5.8 L0 3.3" stroke="#000" stroke-width="1.2" fill="none"/><ellipse cx="-5.3" cy="-3.0" rx="2.7" ry="1.5" fill="none" stroke="#000" stroke-width="1.15"/><ellipse cx="-5.3" cy="3.0" rx="2.7" ry="1.5" fill="none" stroke="#000" stroke-width="1.15"/><ellipse cx="5.3" cy="-3.0" rx="2.7" ry="1.5" fill="none" stroke="#000" stroke-width="1.15"/><ellipse cx="5.3" cy="3.0" rx="2.7" ry="1.5" fill="none" stroke="#000" stroke-width="1.15"/></g>
<g transform="translate(111.0 952.0) rotate(-93.6)"><rect x="-7.9" y="-5.75" width="15.8" height="11.5" rx="4.5" fill="#fff" stroke="#000" stroke-width="1.5"/><path d="M-6.4 0.3 L6.4 0.3 M0 -5.75 L0 -3.25 M0 5.75 L0 3.25" stroke="#000" stroke-width="1.2" fill="none"/><ellipse cx="-4.2" cy="-3.0" rx="2.7" ry="1.5" fill="none" stroke="#000" stroke-width="1.15"/><ellipse cx="-4.2" cy="3.0" rx="2.7" ry="1.5" fill="none" stroke="#000" stroke-width="1.15"/><ellipse cx="4.2" cy="-3.0" rx="2.7" ry="1.5" fill="none" stroke="#000" stroke-width="1.15"/><ellipse cx="4.2" cy="3.0" rx="2.7" ry="1.5" fill="none" stroke="#000" stroke-width="1.15"/></g><g transform="translate(110.6 935.3) rotate(-86.3)"><rect x="-7.9" y="-5.75" width="15.8" height="11.5" rx="4.5" fill="#fff" stroke="#000" stroke-width="1.5"/><path d="M-6.4 0.3 L6.4 0.3 M0 -5.75 L0 -3.25 M0 5.75 L0 3.25" stroke="#000" stroke-width="1.2" fill="none"/><ellipse cx="-4.2" cy="-3.0" rx="2.7" ry="1.5" fill="none" stroke="#000" stroke-width="1.15"/><ellipse cx="-4.2" cy="3.0" rx="2.7" ry="1.5" fill="none" stroke="#000" stroke-width="1.15"/><ellipse cx="4.2" cy="-3.0" rx="2.7" ry="1.5" fill="none" stroke="#000" stroke-width="1.15"/><ellipse cx="4.2" cy="3.0" rx="2.7" ry="1.5" fill="none" stroke="#000" stroke-width="1.15"/></g><g transform="translate(114.6 919.2) rotate(-61.9)"><rect x="-7.9" y="-5.75" width="15.8" height="11.5" rx="4.5" fill="#fff" stroke="#000" stroke-width="1.5"/><path d="M-6.4 0.3 L6.4 0.3 M0 -5.75 L0 -3.25 M0 5.75 L0 3.25" stroke="#000" stroke-width="1.2" fill="none"/><ellipse cx="-4.2" cy="-3.0" rx="2.7" ry="1.5" fill="none" stroke="#000" stroke-width="1.15"/><ellipse cx="-4.2" cy="3.0" rx="2.7" ry="1.5" fill="none" stroke="#000" stroke-width="1.15"/><ellipse cx="4.2" cy="-3.0" rx="2.7" ry="1.5" fill="none" stroke="#000" stroke-width="1.15"/><ellipse cx="4.2" cy="3.0" rx="2.7" ry="1.5" fill="none" stroke="#000" stroke-width="1.15"/></g><g transform="translate(126.6 908.1) rotate(-13.7)"><rect x="-7.9" y="-5.75" width="15.8" height="11.5" rx="4.5" fill="#fff" stroke="#000" stroke-width="1.5"/><path d="M-6.4 0.3 L6.4 0.3 M0 -5.75 L0 -3.25 M0 5.75 L0 3.25" stroke="#000" stroke-width="1.2" fill="none"/><ellipse cx="-4.2" cy="-3.0" rx="2.7" ry="1.5" fill="none" stroke="#000" stroke-width="1.15"/><ellipse cx="-4.2" cy="3.0" rx="2.7" ry="1.5" fill="none" stroke="#000" stroke-width="1.15"/><ellipse cx="4.2" cy="-3.0" rx="2.7" ry="1.5" fill="none" stroke="#000" stroke-width="1.15"/><ellipse cx="4.2" cy="3.0" rx="2.7" ry="1.5" fill="none" stroke="#000" stroke-width="1.15"/></g><g transform="translate(142.0 912.2) rotate(48.5)"><rect x="-7.9" y="-5.75" width="15.8" height="11.5" rx="4.5" fill="#fff" stroke="#000" stroke-width="1.5"/><path d="M-6.4 0.3 L6.4 0.3 M0 -5.75 L0 -3.25 M0 5.75 L0 3.25" stroke="#000" stroke-width="1.2" fill="none"/><ellipse cx="-4.2" cy="-3.0" rx="2.7" ry="1.5" fill="none" stroke="#000" stroke-width="1.15"/><ellipse cx="-4.2" cy="3.0" rx="2.7" ry="1.5" fill="none" stroke="#000" stroke-width="1.15"/><ellipse cx="4.2" cy="-3.0" rx="2.7" ry="1.5" fill="none" stroke="#000" stroke-width="1.15"/><ellipse cx="4.2" cy="3.0" rx="2.7" ry="1.5" fill="none" stroke="#000" stroke-width="1.15"/></g><g transform="translate(150.2 926.7) rotate(70.8)"><rect x="-7.9" y="-5.75" width="15.8" height="11.5" rx="4.5" fill="#fff" stroke="#000" stroke-width="1.5"/><path d="M-6.4 0.3 L6.4 0.3 M0 -5.75 L0 -3.25 M0 5.75 L0 3.25" stroke="#000" stroke-width="1.2" fill="none"/><ellipse cx="-4.2" cy="-3.0" rx="2.7" ry="1.5" fill="none" stroke="#000" stroke-width="1.15"/><ellipse cx="-4.2" cy="3.0" rx="2.7" ry="1.5" fill="none" stroke="#000" stroke-width="1.15"/><ellipse cx="4.2" cy="-3.0" rx="2.7" ry="1.5" fill="none" stroke="#000" stroke-width="1.15"/><ellipse cx="4.2" cy="3.0" rx="2.7" ry="1.5" fill="none" stroke="#000" stroke-width="1.15"/></g><g transform="translate(154.2 942.9) rotate(81.3)"><rect x="-7.9" y="-5.75" width="15.8" height="11.5" rx="4.5" fill="#fff" stroke="#000" stroke-width="1.5"/><path d="M-6.4 0.3 L6.4 0.3 M0 -5.75 L0 -3.25 M0 5.75 L0 3.25" stroke="#000" stroke-width="1.2" fill="none"/><ellipse cx="-4.2" cy="-3.0" rx="2.7" ry="1.5" fill="none" stroke="#000" stroke-width="1.15"/><ellipse cx="-4.2" cy="3.0" rx="2.7" ry="1.5" fill="none" stroke="#000" stroke-width="1.15"/><ellipse cx="4.2" cy="-3.0" rx="2.7" ry="1.5" fill="none" stroke="#000" stroke-width="1.15"/><ellipse cx="4.2" cy="3.0" rx="2.7" ry="1.5" fill="none" stroke="#000" stroke-width="1.15"/></g><g transform="translate(155.2 959.6) rotate(93.2)"><rect x="-7.9" y="-5.75" width="15.8" height="11.5" rx="4.5" fill="#fff" stroke="#000" stroke-width="1.5"/><path d="M-6.4 0.3 L6.4 0.3 M0 -5.75 L0 -3.25 M0 5.75 L0 3.25" stroke="#000" stroke-width="1.2" fill="none"/><ellipse cx="-4.2" cy="-3.0" rx="2.7" ry="1.5" fill="none" stroke="#000" stroke-width="1.15"/><ellipse cx="-4.2" cy="3.0" rx="2.7" ry="1.5" fill="none" stroke="#000" stroke-width="1.15"/><ellipse cx="4.2" cy="-3.0" rx="2.7" ry="1.5" fill="none" stroke="#000" stroke-width="1.15"/><ellipse cx="4.2" cy="3.0" rx="2.7" ry="1.5" fill="none" stroke="#000" stroke-width="1.15"/></g><g transform="translate(152.0 976.0) rotate(102.5)"><rect x="-7.9" y="-5.75" width="15.8" height="11.5" rx="4.5" fill="#fff" stroke="#000" stroke-width="1.5"/><path d="M-6.4 0.3 L6.4 0.3 M0 -5.75 L0 -3.25 M0 5.75 L0 3.25" stroke="#000" stroke-width="1.2" fill="none"/><ellipse cx="-4.2" cy="-3.0" rx="2.7" ry="1.5" fill="none" stroke="#000" stroke-width="1.15"/><ellipse cx="-4.2" cy="3.0" rx="2.7" ry="1.5" fill="none" stroke="#000" stroke-width="1.15"/><ellipse cx="4.2" cy="-3.0" rx="2.7" ry="1.5" fill="none" stroke="#000" stroke-width="1.15"/><ellipse cx="4.2" cy="3.0" rx="2.7" ry="1.5" fill="none" stroke="#000" stroke-width="1.15"/></g><g transform="translate(114.0 1028.0) rotate(77.5)"><rect x="-7.9" y="-5.75" width="15.8" height="11.5" rx="4.5" fill="#fff" stroke="#000" stroke-width="1.5"/><path d="M-6.4 0.3 L6.4 0.3 M0 -5.75 L0 -3.25 M0 5.75 L0 3.25" stroke="#000" stroke-width="1.2" fill="none"/><ellipse cx="-4.2" cy="-3.0" rx="2.7" ry="1.5" fill="none" stroke="#000" stroke-width="1.15"/><ellipse cx="-4.2" cy="3.0" rx="2.7" ry="1.5" fill="none" stroke="#000" stroke-width="1.15"/><ellipse cx="4.2" cy="-3.0" rx="2.7" ry="1.5" fill="none" stroke="#000" stroke-width="1.15"/><ellipse cx="4.2" cy="3.0" rx="2.7" ry="1.5" fill="none" stroke="#000" stroke-width="1.15"/></g><g transform="translate(118.2 1044.8) rotate(70.0)"><rect x="-7.9" y="-5.75" width="15.8" height="11.5" rx="4.5" fill="#fff" stroke="#000" stroke-width="1.5"/><path d="M-6.4 0.3 L6.4 0.3 M0 -5.75 L0 -3.25 M0 5.75 L0 3.25" stroke="#000" stroke-width="1.2" fill="none"/><ellipse cx="-4.2" cy="-3.0" rx="2.7" ry="1.5" fill="none" stroke="#000" stroke-width="1.15"/><ellipse cx="-4.2" cy="3.0" rx="2.7" ry="1.5" fill="none" stroke="#000" stroke-width="1.15"/><ellipse cx="4.2" cy="-3.0" rx="2.7" ry="1.5" fill="none" stroke="#000" stroke-width="1.15"/><ellipse cx="4.2" cy="3.0" rx="2.7" ry="1.5" fill="none" stroke="#000" stroke-width="1.15"/></g><g transform="translate(126.0 1060.2) rotate(55.3)"><rect x="-7.9" y="-5.75" width="15.8" height="11.5" rx="4.5" fill="#fff" stroke="#000" stroke-width="1.5"/><path d="M-6.4 0.3 L6.4 0.3 M0 -5.75 L0 -3.25 M0 5.75 L0 3.25" stroke="#000" stroke-width="1.2" fill="none"/><ellipse cx="-4.2" cy="-3.0" rx="2.7" ry="1.5" fill="none" stroke="#000" stroke-width="1.15"/><ellipse cx="-4.2" cy="3.0" rx="2.7" ry="1.5" fill="none" stroke="#000" stroke-width="1.15"/><ellipse cx="4.2" cy="-3.0" rx="2.7" ry="1.5" fill="none" stroke="#000" stroke-width="1.15"/><ellipse cx="4.2" cy="3.0" rx="2.7" ry="1.5" fill="none" stroke="#000" stroke-width="1.15"/></g><g transform="translate(137.7 1072.9) rotate(37.3)"><rect x="-7.9" y="-5.75" width="15.8" height="11.5" rx="4.5" fill="#fff" stroke="#000" stroke-width="1.5"/><path d="M-6.4 0.3 L6.4 0.3 M0 -5.75 L0 -3.25 M0 5.75 L0 3.25" stroke="#000" stroke-width="1.2" fill="none"/><ellipse cx="-4.2" cy="-3.0" rx="2.7" ry="1.5" fill="none" stroke="#000" stroke-width="1.15"/><ellipse cx="-4.2" cy="3.0" rx="2.7" ry="1.5" fill="none" stroke="#000" stroke-width="1.15"/><ellipse cx="4.2" cy="-3.0" rx="2.7" ry="1.5" fill="none" stroke="#000" stroke-width="1.15"/><ellipse cx="4.2" cy="3.0" rx="2.7" ry="1.5" fill="none" stroke="#000" stroke-width="1.15"/></g><g transform="translate(153.2 1075.2) rotate(-35.5)"><rect x="-7.9" y="-5.75" width="15.8" height="11.5" rx="4.5" fill="#fff" stroke="#000" stroke-width="1.5"/><path d="M-6.4 0.3 L6.4 0.3 M0 -5.75 L0 -3.25 M0 5.75 L0 3.25" stroke="#000" stroke-width="1.2" fill="none"/><ellipse cx="-4.2" cy="-3.0" rx="2.7" ry="1.5" fill="none" stroke="#000" stroke-width="1.15"/><ellipse cx="-4.2" cy="3.0" rx="2.7" ry="1.5" fill="none" stroke="#000" stroke-width="1.15"/><ellipse cx="4.2" cy="-3.0" rx="2.7" ry="1.5" fill="none" stroke="#000" stroke-width="1.15"/><ellipse cx="4.2" cy="3.0" rx="2.7" ry="1.5" fill="none" stroke="#000" stroke-width="1.15"/></g><g transform="translate(161.0 1060.0) rotate(-74.3)"><rect x="-7.9" y="-5.75" width="15.8" height="11.5" rx="4.5" fill="#fff" stroke="#000" stroke-width="1.5"/><path d="M-6.4 0.3 L6.4 0.3 M0 -5.75 L0 -3.25 M0 5.75 L0 3.25" stroke="#000" stroke-width="1.2" fill="none"/><ellipse cx="-4.2" cy="-3.0" rx="2.7" ry="1.5" fill="none" stroke="#000" stroke-width="1.15"/><ellipse cx="-4.2" cy="3.0" rx="2.7" ry="1.5" fill="none" stroke="#000" stroke-width="1.15"/><ellipse cx="4.2" cy="-3.0" rx="2.7" ry="1.5" fill="none" stroke="#000" stroke-width="1.15"/><ellipse cx="4.2" cy="3.0" rx="2.7" ry="1.5" fill="none" stroke="#000" stroke-width="1.15"/></g><g transform="translate(164.0 1043.0) rotate(-81.0)"><rect x="-7.9" y="-5.75" width="15.8" height="11.5" rx="4.5" fill="#fff" stroke="#000" stroke-width="1.5"/><path d="M-6.4 0.3 L6.4 0.3 M0 -5.75 L0 -3.25 M0 5.75 L0 3.25" stroke="#000" stroke-width="1.2" fill="none"/><ellipse cx="-4.2" cy="-3.0" rx="2.7" ry="1.5" fill="none" stroke="#000" stroke-width="1.15"/><ellipse cx="-4.2" cy="3.0" rx="2.7" ry="1.5" fill="none" stroke="#000" stroke-width="1.15"/><ellipse cx="4.2" cy="-3.0" rx="2.7" ry="1.5" fill="none" stroke="#000" stroke-width="1.15"/><ellipse cx="4.2" cy="3.0" rx="2.7" ry="1.5" fill="none" stroke="#000" stroke-width="1.15"/></g><path d="M105.3 952 L108.3 1032 M117 952 L119.5 1032" fill="none" stroke="#000" stroke-width="1.05" stroke-linejoin="round" stroke-linecap="round" stroke-dasharray="9 2 2 2"/><path d="M145 978 Q147 1010 158 1042 M157.5 978 Q160 1010 170 1042" fill="none" stroke="#000" stroke-width="1.05" stroke-linejoin="round" stroke-linecap="round" stroke-dasharray="9 2 2 2"/>
<path d="M167.5 70 L167.5 101" fill="none" stroke="#000" stroke-width="1.2"/>
<path d="M342.5 58 L342.5 86" fill="none" stroke="#000" stroke-width="1.2"/>
<path d="M58.5 143 L58.5 168" fill="none" stroke="#000" stroke-width="1.4"/>
<path d="M146.5 262 L146.5 282" fill="none" stroke="#000" stroke-width="1.2"/>
<path d="M253.5 264 L253.5 292" fill="none" stroke="#000" stroke-width="1.2"/>
<path d="M556.5 152.5 L556.5 178.75" fill="none" stroke="#000" stroke-width="1.2"/>
<path d="M458.75 226 L486 226" fill="none" stroke="#000" stroke-width="1.5"/>
<path d="M497.5 252.5 L481 252.5 L470 262.5" fill="none" stroke="#000" stroke-width="1"/>
<path d="M498.75 280.5 L473 280.5 L459 302" fill="none" stroke="#000" stroke-width="1"/>
<path d="M501 305.5 L476 305.5" fill="none" stroke="#000" stroke-width="1"/>
<path d="M390.75 274.5 L417.5 274.5" fill="none" stroke="#000" stroke-width="1"/>
<path d="M426 326.5 L456 326.5" fill="none" stroke="#000" stroke-width="1"/>
<path d="M437 380.5 L465 380.5" fill="none" stroke="#000" stroke-width="1"/>
<path d="M434.5 424.5 L451.75 424.5 L470 412.5" fill="none" stroke="#000" stroke-width="1"/>
<path d="M440 460.5 L457.5 460.5 L473 438.75" fill="none" stroke="#000" stroke-width="1"/>
<path d="M456 499.5 L486 499.5" fill="none" stroke="#000" stroke-width="1"/>
<path d="M633.5 272.5 L633.5 297.5" fill="none" stroke="#000" stroke-width="1.4"/>
<path d="M590 335 L617 335" fill="none" stroke="#000" stroke-width="1.6"/>
<path d="M591 356.5 L620 356.5 L624 367.5" fill="none" stroke="#000" stroke-width="1"/>
<path d="M581 379.5 L610 379.5" fill="none" stroke="#000" stroke-width="1"/>
<path d="M571 412.5 L587.5 412.5 L602.5 402.5" fill="none" stroke="#000" stroke-width="1"/>
<path d="M658.75 383.5 L683.75 383.5" fill="none" stroke="#000" stroke-width="1"/>
<path d="M617.5 431.5 L648 431.5" fill="none" stroke="#000" stroke-width="1"/>
<path d="M607.5 480 L640 480" fill="none" stroke="#000" stroke-width="1.6"/>
<path d="M606 511 L617.5 521.5 L635.5 521.5" fill="none" stroke="#000" stroke-width="1"/>
<path d="M587.2 564 L616.8 564" fill="none" stroke="#000" stroke-width="1.6"/>
<path d="M289.5 426.75 L289.5 456.75" fill="none" stroke="#000" stroke-width="1.4"/>
<path d="M81.5 494 L81.5 530.5" fill="none" stroke="#000" stroke-width="1.4"/>
<path d="M126.5 576 L126.5 608.5" fill="none" stroke="#000" stroke-width="1.2"/>
<path d="M158.25 710.5 L186.25 710.5" fill="none" stroke="#000" stroke-width="1"/>
<path d="M424.5 642.5 L424.5 670" fill="none" stroke="#000" stroke-width="1"/>
<path d="M128.5 874 L128.5 904" fill="none" stroke="#000" stroke-width="1.2"/>
<path d="M196.5 927 L196.5 952.5" fill="none" stroke="#000" stroke-width="1"/>
<path d="M254.5 991.5 L254.5 1016.5" fill="none" stroke="#000" stroke-width="1"/>
<path d="M68.5 1017.75 L68.5 1075" fill="none" stroke="#000" stroke-width="1.4"/>
<path d="M345.5 939 L345.5 966" fill="none" stroke="#000" stroke-width="1"/>
<path d="M484.5 855 L484.5 879" fill="none" stroke="#000" stroke-width="1"/>
<path d="M555.5 952 L555.5 988" fill="none" stroke="#000" stroke-width="1.2"/>
<g font-family='"DejaVu Sans Condensed","Liberation Sans",sans-serif' font-weight="bold" fill="#000" stroke="#fff" stroke-width="0.4"><text x="137" y="67" font-size="20.5" textLength="70.50" lengthAdjust="spacingAndGlyphs">13070A</text>
<text x="315" y="54.5" font-size="20.5" textLength="58.75" lengthAdjust="spacingAndGlyphs">13512</text>
<text x="23.75" y="120" font-size="20.5" textLength="71.25" lengthAdjust="spacingAndGlyphs">13523F</text>
<text x="115" y="299" font-size="20.5" textLength="71.00" lengthAdjust="spacingAndGlyphs">13523F</text>
<text x="223.75" y="309" font-size="20.5" textLength="59.25" lengthAdjust="spacingAndGlyphs">13050</text>
<text x="529.5" y="195.5" font-size="20.5" textLength="56.50" lengthAdjust="spacingAndGlyphs">13511</text>
<text x="490" y="232.5" font-size="20.5" textLength="57.50" lengthAdjust="spacingAndGlyphs">13801</text>
<text x="501" y="260.5" font-size="20.5" textLength="57.75" lengthAdjust="spacingAndGlyphs">13716</text>
<text x="505" y="287.5" font-size="20.5" textLength="70.50" lengthAdjust="spacingAndGlyphs">13741A</text>
<text x="507" y="311" font-size="20.5" textLength="70.50" lengthAdjust="spacingAndGlyphs">13741A</text>
<text x="328.75" y="280" font-size="20.5" textLength="57.50" lengthAdjust="spacingAndGlyphs">13750</text>
<text x="367" y="332" font-size="20.5" textLength="57.50" lengthAdjust="spacingAndGlyphs">13741</text>
<text x="365" y="378" font-size="20.5" textLength="71.00" lengthAdjust="spacingAndGlyphs">13711C</text>
<text x="359" y="430.5" font-size="20.5" textLength="71.00" lengthAdjust="spacingAndGlyphs">13715A</text>
<text x="377.5" y="466" font-size="20.5" textLength="57.50" lengthAdjust="spacingAndGlyphs">13734</text>
<text x="395" y="505.5" font-size="20.5" textLength="57.50" lengthAdjust="spacingAndGlyphs">13715</text>
<text x="605" y="267.5" font-size="20.5" textLength="58.00" lengthAdjust="spacingAndGlyphs">13801</text>
<text x="528" y="341" font-size="20.5" textLength="58.00" lengthAdjust="spacingAndGlyphs">13716</text>
<text x="515" y="362.5" font-size="20.5" textLength="70.50" lengthAdjust="spacingAndGlyphs">13741A</text>
<text x="505" y="385.5" font-size="20.5" textLength="70.75" lengthAdjust="spacingAndGlyphs">13741A</text>
<text x="510" y="416" font-size="20.5" textLength="58.00" lengthAdjust="spacingAndGlyphs">13741</text>
<text x="685.5" y="389" font-size="20.5" textLength="58.25" lengthAdjust="spacingAndGlyphs">13750</text>
<text x="650" y="428" font-size="20.5" textLength="71.00" lengthAdjust="spacingAndGlyphs">13711C</text>
<text x="656" y="486.75" font-size="20.5" textLength="70.00" lengthAdjust="spacingAndGlyphs">13711E</text>
<text x="638" y="528.75" font-size="20.5" textLength="57.75" lengthAdjust="spacingAndGlyphs">13734</text>
<text x="620.4" y="571.4" font-size="20.5" textLength="56.80" lengthAdjust="spacingAndGlyphs">13711</text>
<text x="261" y="420.5" font-size="20.5" textLength="57.75" lengthAdjust="spacingAndGlyphs">13506</text>
<text x="26" y="488.5" font-size="19.5" textLength="144.50" lengthAdjust="spacingAndGlyphs">91551-80630(2)</text>
<text x="99.5" y="625.5" font-size="20.5" textLength="57.50" lengthAdjust="spacingAndGlyphs">13540</text>
<text x="96.25" y="716.5" font-size="20.5" textLength="58.25" lengthAdjust="spacingAndGlyphs">13559</text>
<text x="395" y="638" font-size="20.5" textLength="71.00" lengthAdjust="spacingAndGlyphs">13566B</text>
<text x="100" y="869.75" font-size="20.5" textLength="58.00" lengthAdjust="spacingAndGlyphs">13507</text>
<text x="168.75" y="921" font-size="20.5" textLength="57.50" lengthAdjust="spacingAndGlyphs">13549</text>
<text x="226.25" y="1034" font-size="20.5" textLength="58.00" lengthAdjust="spacingAndGlyphs">13565</text>
<text x="11.25" y="1091.5" font-size="19.5" textLength="113.00" lengthAdjust="spacingAndGlyphs">90109-06381</text>
<text x="290.5" y="982" font-size="19.5" textLength="144.00" lengthAdjust="spacingAndGlyphs">91671-80614(2)</text></g>
<g font-family='"Liberation Sans","Noto Sans CJK JP",sans-serif' fill="#000">
<text x="3.5" y="138" font-size="13.5" textLength="109" lengthAdjust="spacingAndGlyphs">(エキゾースト側)</text>
<text x="102.5" y="316" font-size="13.5" textLength="95" lengthAdjust="spacingAndGlyphs">(インテーク側)</text>
<text x="370.5" y="396" font-size="12" textLength="42" lengthAdjust="spacingAndGlyphs">(NO.2)</text>
<text x="655.5" y="445.5" font-size="12" textLength="42" lengthAdjust="spacingAndGlyphs">(NO.1)</text>
<text x="228.5" y="1080" font-size="15.5" textLength="110" lengthAdjust="spacingAndGlyphs">再使用不可部品</text>
<text x="228.5" y="1099" font-size="14" textLength="120" lengthAdjust="spacingAndGlyphs">Non-reusable part</text>
<text x="466" y="1075" font-size="15.5" textLength="63" lengthAdjust="spacingAndGlyphs">車両前方</text>
<text x="465" y="1092.5" font-size="15" textLength="156" lengthAdjust="spacingAndGlyphs">VEHICLE FRONT SIDE</text>
<text x="685" y="1098.5" font-size="15.4" textLength="62.5" lengthAdjust="spacingAndGlyphs">132223C</text>
</g>
<g font-family='"Liberation Mono",monospace' font-weight="bold" fill="#000">
<text x="442.5" y="894" font-size="19.5" textLength="83.5" lengthAdjust="spacingAndGlyphs" xml:space="preserve">REFER TO</text>
<text x="442.5" y="913.5" font-size="19.5" textLength="92.5" lengthAdjust="spacingAndGlyphs">FIG 11-05</text>
<text x="445" y="932.5" font-size="17" font-weight="normal" stroke="#000" stroke-width="0.35" textLength="107.5" lengthAdjust="spacingAndGlyphs">(PNC 11434M)</text>
<text x="515" y="1003.5" font-size="19.5" textLength="83.5" lengthAdjust="spacingAndGlyphs">REFER TO</text>
<text x="515" y="1022.5" font-size="19.5" textLength="92.5" lengthAdjust="spacingAndGlyphs">FIG 11-05</text>
<text x="517.5" y="1042.5" font-size="17" font-weight="normal" stroke="#000" stroke-width="0.35" textLength="107.5" lengthAdjust="spacingAndGlyphs">(PNC 13516B)</text>
</g>
<ellipse cx="347" cy="424" rx="6.3" ry="6.5"/><ellipse cx="646" cy="480" rx="6.8" ry="7"/>
<ellipse cx="216.3" cy="1073.5" rx="6.3" ry="7"/><ellipse cx="216.3" cy="1094.5" rx="6.3" ry="7"/>
<path d="M629.7 1077.6 L635.7 1069.7 L659.3 1084.5 L663.3 1079.6 L675.1 1098.4 L652.4 1098.9 L656.4 1092.4 Z" fill="#000"/>
<g style="mix-blend-mode:multiply"><path fill="#c3c3c3" d="M72.3 498.3 L110 498.3 L62.3 546 L193.5 546 L163 576.8 L60 576.8 Q56 576.8 53 574 L34 555 Q28.5 549 34 543 Z"/>
<path fill="#c3c3c3" d="M149 498.3 L210.3 498.3 L186.3 522.4 L125.3 522.4 Z"/>
<path fill="#c3c3c3" d="M254.7 521.8 L254.7 556 Q254.7 560 252 563 L196.5 618.8 L158 618.8 Z"/>
<path fill="#c3c3c3" d="M319.7 475 L363 475 L310.2 527.8 L310.2 546 L403.3 546 L375.5 574 Q373 576.5 369 576.5 L289 576.5 Q279.3 576.5 279.3 567 L279.3 519 Q279.3 515.3 282 512.6 Z"/>
<path fill="#c3c3c3" d="M304.5 588.4 L364.7 588.4 L344 609.5 L285.8 609.5 Z"/>
<path fill="#c3c3c3" d="M309.5 618.6 L335 618.6 L317.4 636.7 L291.7 636.7 Z"/>
<path fill="#c3c3c3" fill-rule="evenodd" d="M470.2 490.9 L515.6 490.9 L546.2 520.5 L546.2 556 Q546.2 560 543.5 563 L492.9 619.1 L448.5 619.1 L489 577.7 L451 577.7 Q448 577.7 445.5 575.3 L424.5 554 Q419 548 424.5 542 Z M483 521.8 L545.8 521.8 L521.5 546.1 L459 546.1 Z"/>
<path fill="#c3c3c3" d="M608.5 474.7 L654.7 474.7 L602.6 526.8 L602.6 547 L696.2 547 L670 573 Q667.5 575.4 664 575.4 L581 575.4 Q571.4 575.4 571.4 566 L571.4 516 Q571.4 512 574.2 509 Z"/>
<path fill="#c3c3c3" d="M666.6 498.4 L728.2 498.4 L704.5 522.6 L641.7 522.6 Z"/></g>
</svg></body></html>
